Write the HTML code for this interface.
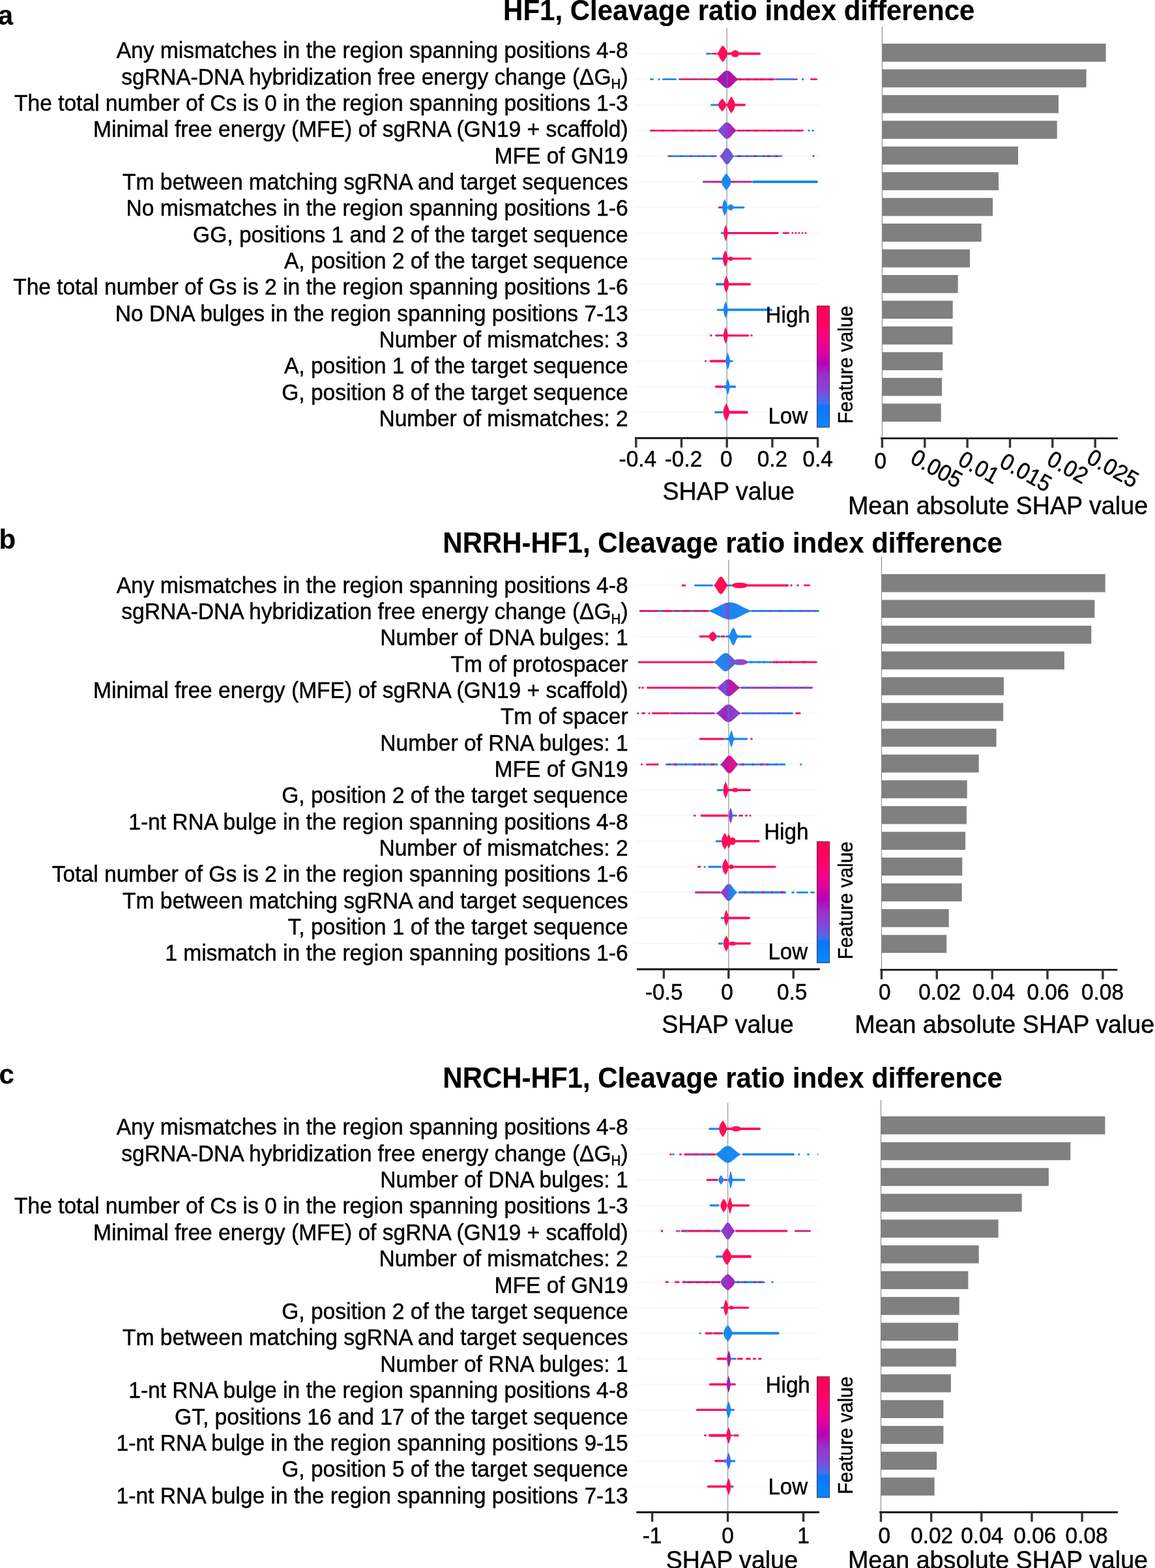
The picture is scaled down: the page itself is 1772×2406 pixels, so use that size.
<!DOCTYPE html><html><head><meta charset="utf-8"><title>SHAP summary</title><style>html,body{margin:0;padding:0;background:#fff;overflow:hidden;}svg{display:block;}text{font-family:"Liberation Sans", Arial, Helvetica, sans-serif;fill:#000;stroke:#000;stroke-width:0.45px;}</style></head><body>
<svg width="1772" height="2406" viewBox="0 0 1772 2406">
<defs><linearGradient id="cb" x1="0" y1="0" x2="0" y2="1"><stop offset="0" stop-color="#ff0052"/><stop offset="0.14" stop-color="#ff0060"/><stop offset="0.24" stop-color="#fb007e"/><stop offset="0.38" stop-color="#e0009e"/><stop offset="0.476" stop-color="#b800b8"/><stop offset="0.57" stop-color="#9a30c8"/><stop offset="0.67" stop-color="#8a42d8"/><stop offset="0.74" stop-color="#6a58e2"/><stop offset="0.80" stop-color="#4070f0"/><stop offset="0.825" stop-color="#0a78f8"/><stop offset="1" stop-color="#0a86ff"/></linearGradient><linearGradient id="g1" x1="0" y1="0" x2="1" y2="0"><stop offset="0.000" stop-color="#b5129f"/><stop offset="0.300" stop-color="#a81aa8"/><stop offset="0.450" stop-color="#a01cb0"/><stop offset="0.500" stop-color="#7a4ad0"/><stop offset="0.560" stop-color="#b0159f"/><stop offset="1.000" stop-color="#c0109a"/></linearGradient><linearGradient id="g2" x1="0" y1="0" x2="1" y2="0"><stop offset="0.000" stop-color="#6f55d8"/><stop offset="0.333" stop-color="#7a4ed6"/><stop offset="0.667" stop-color="#a32ab8"/><stop offset="1.000" stop-color="#c0139f"/></linearGradient><linearGradient id="g3" x1="0" y1="0" x2="1" y2="0"><stop offset="0.000" stop-color="#8b44cf"/><stop offset="0.500" stop-color="#6f55d8"/><stop offset="1.000" stop-color="#5a66e0"/></linearGradient><linearGradient id="g4" x1="0" y1="0" x2="1" y2="0"><stop offset="0.000" stop-color="#1a88f0"/><stop offset="0.300" stop-color="#1a88f0"/><stop offset="0.340" stop-color="#4a70e8"/><stop offset="0.380" stop-color="#1a88f0"/><stop offset="0.420" stop-color="#6a5ad8"/><stop offset="0.470" stop-color="#7050d5"/><stop offset="0.500" stop-color="#1a88f0"/><stop offset="1.000" stop-color="#1a88f0"/></linearGradient><linearGradient id="g5" x1="0" y1="0" x2="1" y2="0"><stop offset="0.000" stop-color="#5a66e0"/><stop offset="0.500" stop-color="#8a4ad0"/><stop offset="1.000" stop-color="#a03cc8"/></linearGradient><linearGradient id="g6" x1="0" y1="0" x2="1" y2="0"><stop offset="0.000" stop-color="#1a88f0"/><stop offset="0.250" stop-color="#2f80ee"/><stop offset="0.500" stop-color="#1a88f0"/><stop offset="0.750" stop-color="#6f55d8"/><stop offset="1.000" stop-color="#4a70e8"/></linearGradient><linearGradient id="g7" x1="0" y1="0" x2="1" y2="0"><stop offset="0.000" stop-color="#9040c8"/><stop offset="0.300" stop-color="#8a40c8"/><stop offset="0.340" stop-color="#3a78ee"/><stop offset="0.380" stop-color="#8a40c8"/><stop offset="0.500" stop-color="#a524b5"/><stop offset="0.750" stop-color="#c0179f"/><stop offset="1.000" stop-color="#b02ab0"/></linearGradient><linearGradient id="g8" x1="0" y1="0" x2="1" y2="0"><stop offset="0.000" stop-color="#9a3ac8"/><stop offset="0.300" stop-color="#9030c0"/><stop offset="0.360" stop-color="#c0189f"/><stop offset="0.420" stop-color="#9030c0"/><stop offset="0.500" stop-color="#6a58e0"/><stop offset="0.550" stop-color="#9a30c0"/><stop offset="0.700" stop-color="#8a40d0"/><stop offset="1.000" stop-color="#8a40d0"/></linearGradient><linearGradient id="g9" x1="0" y1="0" x2="1" y2="0"><stop offset="0.000" stop-color="#a02ab8"/><stop offset="0.333" stop-color="#c0179f"/><stop offset="0.667" stop-color="#e0108a"/><stop offset="1.000" stop-color="#b02ab0"/></linearGradient><linearGradient id="g10" x1="0" y1="0" x2="1" y2="0"><stop offset="0.000" stop-color="#8a40c8"/><stop offset="0.333" stop-color="#8a40c8"/><stop offset="0.667" stop-color="#1a88f0"/><stop offset="1.000" stop-color="#1a88f0"/></linearGradient><linearGradient id="g11" x1="0" y1="0" x2="1" y2="0"><stop offset="0.000" stop-color="#8a3ed0"/><stop offset="0.500" stop-color="#8a3ed0"/><stop offset="1.000" stop-color="#b01aa8"/></linearGradient><linearGradient id="g12" x1="0" y1="0" x2="1" y2="0"><stop offset="0.000" stop-color="#8a3ed0"/><stop offset="0.500" stop-color="#9a30c0"/><stop offset="1.000" stop-color="#b01aa8"/></linearGradient></defs>
<rect width="100%" height="100%" fill="#fff"/>
<text transform="translate(-3.2 37.5) scale(1 1.0)" font-size="42" font-weight="bold" style="stroke-width:0.15px">a</text>
<text transform="translate(1133.7 31.0) scale(1 1.045)" font-size="42.0" font-weight="bold" text-anchor="middle" style="stroke-width:0.15px">HF1, Cleavage ratio index difference</text>
<text transform="translate(963.6 89.4) scale(1 1.06)" font-size="33.55" text-anchor="end">Any mismatches in the region spanning positions 4-8</text>
<text transform="translate(963.6 129.7) scale(1 1.06)" font-size="33.55" text-anchor="end">sgRNA-DNA hybridization free energy change (ΔG<tspan font-size="20.5" dy="6.2">H</tspan><tspan dy="-6.2">)</tspan></text>
<text transform="translate(963.6 170.0) scale(1 1.06)" font-size="33.55" text-anchor="end">The total number of Cs is 0 in the region spanning positions 1-3</text>
<text transform="translate(963.6 210.4) scale(1 1.06)" font-size="33.55" text-anchor="end">Minimal free energy (MFE) of sgRNA (GN19 + scaffold)</text>
<text transform="translate(963.6 250.7) scale(1 1.06)" font-size="33.55" text-anchor="end">MFE of GN19</text>
<text transform="translate(963.6 291.0) scale(1 1.06)" font-size="33.55" text-anchor="end">Tm between matching sgRNA and target sequences</text>
<text transform="translate(963.6 331.3) scale(1 1.06)" font-size="33.55" text-anchor="end">No mismatches in the region spanning positions 1-6</text>
<text transform="translate(963.6 371.6) scale(1 1.06)" font-size="33.55" text-anchor="end">GG, positions 1 and 2 of the target sequence</text>
<text transform="translate(963.6 412.0) scale(1 1.06)" font-size="33.55" text-anchor="end">A, position 2 of the target sequence</text>
<text transform="translate(963.6 452.3) scale(1 1.06)" font-size="33.55" text-anchor="end">The total number of Gs is 2 in the region spanning positions 1-6</text>
<text transform="translate(963.6 492.6) scale(1 1.06)" font-size="33.55" text-anchor="end">No DNA bulges in the region spanning positions 7-13</text>
<text transform="translate(963.6 532.9) scale(1 1.06)" font-size="33.55" text-anchor="end">Number of mismatches: 3</text>
<text transform="translate(963.6 573.2) scale(1 1.06)" font-size="33.55" text-anchor="end">A, position 1 of the target sequence</text>
<text transform="translate(963.6 613.6) scale(1 1.06)" font-size="33.55" text-anchor="end">G, position 8 of the target sequence</text>
<text transform="translate(963.6 653.9) scale(1 1.06)" font-size="33.55" text-anchor="end">Number of mismatches: 2</text>
<line x1="975" x2="1257" y1="82.4" y2="82.4" stroke="#f7f7f7" stroke-width="1.5"/>
<line x1="975" x2="1257" y1="121.7" y2="121.7" stroke="#f7f7f7" stroke-width="1.5"/>
<line x1="975" x2="1257" y1="161.0" y2="161.0" stroke="#f7f7f7" stroke-width="1.5"/>
<line x1="975" x2="1257" y1="200.3" y2="200.3" stroke="#f7f7f7" stroke-width="1.5"/>
<line x1="975" x2="1257" y1="239.6" y2="239.6" stroke="#f7f7f7" stroke-width="1.5"/>
<line x1="975" x2="1257" y1="279.0" y2="279.0" stroke="#f7f7f7" stroke-width="1.5"/>
<line x1="975" x2="1257" y1="318.3" y2="318.3" stroke="#f7f7f7" stroke-width="1.5"/>
<line x1="975" x2="1257" y1="357.6" y2="357.6" stroke="#f7f7f7" stroke-width="1.5"/>
<line x1="975" x2="1257" y1="396.9" y2="396.9" stroke="#f7f7f7" stroke-width="1.5"/>
<line x1="975" x2="1257" y1="436.2" y2="436.2" stroke="#f7f7f7" stroke-width="1.5"/>
<line x1="975" x2="1257" y1="475.5" y2="475.5" stroke="#f7f7f7" stroke-width="1.5"/>
<line x1="975" x2="1257" y1="514.8" y2="514.8" stroke="#f7f7f7" stroke-width="1.5"/>
<line x1="975" x2="1257" y1="554.1" y2="554.1" stroke="#f7f7f7" stroke-width="1.5"/>
<line x1="975" x2="1257" y1="593.4" y2="593.4" stroke="#f7f7f7" stroke-width="1.5"/>
<line x1="975" x2="1257" y1="632.7" y2="632.7" stroke="#f7f7f7" stroke-width="1.5"/>
<line x1="1115.2" x2="1115.2" y1="43.0" y2="672.2" stroke="#a0a0a0" stroke-width="1.4"/>
<rect x="1083.0" y="81.0" width="9.0" height="2.8" rx="1.4" fill="#1a88f0"/>
<rect x="1092.0" y="81.0" width="8.0" height="2.8" rx="1.4" fill="#ff0d57"/>
<rect x="1100.0" y="80.6" width="67.0" height="3.6" rx="1.8" fill="#ff0d57"/>
<path d="M1109.0,69.4 L1108.2,70.5 L1107.3,71.6 L1106.4,72.7 L1105.6,73.7 L1104.9,74.8 L1104.2,75.9 L1103.6,77.0 L1103.1,78.1 L1102.6,79.2 L1102.3,80.2 L1102.1,81.3 L1102.0,82.4 L1102.1,83.5 L1102.3,84.6 L1102.6,85.7 L1103.1,86.7 L1103.6,87.8 L1104.2,88.9 L1104.9,90.0 L1105.6,91.1 L1106.4,92.2 L1107.3,93.2 L1108.2,94.3 L1109.0,95.4 L1109.0,95.4 L1109.8,94.3 L1110.7,93.2 L1111.6,92.2 L1112.4,91.1 L1113.1,90.0 L1113.8,88.9 L1114.4,87.8 L1114.9,86.7 L1115.4,85.7 L1115.7,84.6 L1115.9,83.5 L1116.0,82.4 L1115.9,81.3 L1115.7,80.2 L1115.4,79.2 L1114.9,78.1 L1114.4,77.0 L1113.8,75.9 L1113.1,74.8 L1112.4,73.7 L1111.6,72.7 L1110.7,71.6 L1109.8,70.5 L1109.0,69.4Z" fill="#ff0d57"/>
<ellipse cx="1128.0" cy="82.4" rx="6.0" ry="5.3" fill="#ff0d57"/>
<rect x="997.0" y="120.3" width="6.0" height="2.8" rx="1.4" fill="#1a88f0"/>
<circle cx="1011.0" cy="121.7" r="1.6" fill="#1a88f0"/>
<rect x="1016.0" y="120.3" width="22.0" height="2.8" rx="1.4" fill="#1a88f0"/>
<rect x="1041.0" y="120.3" width="59.0" height="2.8" rx="1.4" fill="#ff0d57"/>
<rect x="1042.2" y="120.3" width="2.3" height="2.8" fill="#1a88f0"/>
<rect x="1057.8" y="120.3" width="1.8" height="2.8" fill="#1a88f0"/>
<rect x="1070.1" y="120.3" width="4.0" height="2.8" fill="#1a88f0"/>
<rect x="1087.9" y="120.3" width="4.3" height="2.8" fill="#1a88f0"/>
<rect x="1128.0" y="120.2" width="61.0" height="3.0" rx="1.5" fill="#ff0d57"/>
<rect x="1134.4" y="120.2" width="2.3" height="3.0" fill="#b020a8"/>
<rect x="1145.7" y="120.2" width="3.5" height="3.0" fill="#b020a8"/>
<rect x="1159.6" y="120.2" width="2.4" height="3.0" fill="#b020a8"/>
<rect x="1167.5" y="120.2" width="3.0" height="3.0" fill="#b020a8"/>
<rect x="1180.0" y="120.2" width="4.1" height="3.0" fill="#b020a8"/>
<rect x="1189.0" y="120.3" width="35.0" height="2.8" rx="1.4" fill="#7a58d8"/>
<rect x="1191.7" y="120.3" width="1.9" height="2.8" fill="#1a88f0"/>
<rect x="1196.2" y="120.3" width="1.8" height="2.8" fill="#1a88f0"/>
<rect x="1202.6" y="120.3" width="1.7" height="2.8" fill="#1a88f0"/>
<rect x="1209.4" y="120.3" width="2.9" height="2.8" fill="#1a88f0"/>
<rect x="1214.9" y="120.3" width="1.7" height="2.8" fill="#1a88f0"/>
<circle cx="1231.5" cy="121.7" r="1.6" fill="#1a88f0"/>
<rect x="1243.0" y="120.3" width="11.0" height="2.8" rx="1.4" fill="#ff0d57"/>
<rect x="1246.9" y="120.3" width="2.2" height="2.8" fill="#9a2fc4"/>
<path d="M1097.0,121.7 L1098.2,121.1 L1099.3,120.4 L1100.5,119.7 L1101.6,118.8 L1102.8,117.8 L1103.9,116.7 L1105.1,115.5 L1106.2,114.4 L1107.4,113.2 L1108.5,112.0 L1109.7,111.0 L1110.8,110.0 L1112.0,109.3 L1113.1,108.7 L1114.2,108.3 L1115.4,108.2 L1116.6,108.3 L1117.7,108.7 L1118.9,109.3 L1120.0,110.0 L1121.2,111.0 L1122.3,112.0 L1123.5,113.2 L1124.6,114.4 L1125.8,115.5 L1126.9,116.7 L1128.1,117.8 L1129.2,118.8 L1130.4,119.7 L1131.5,120.4 L1132.7,121.1 L1133.8,121.7 L1133.8,121.7 L1132.7,122.3 L1131.5,123.0 L1130.4,123.8 L1129.2,124.7 L1128.1,125.7 L1126.9,126.7 L1125.8,127.9 L1124.6,129.1 L1123.5,130.2 L1122.3,131.4 L1121.2,132.4 L1120.0,133.4 L1118.9,134.1 L1117.7,134.7 L1116.6,135.1 L1115.4,135.2 L1114.2,135.1 L1113.1,134.7 L1112.0,134.1 L1110.8,133.4 L1109.7,132.4 L1108.5,131.4 L1107.4,130.2 L1106.2,129.1 L1105.1,127.9 L1103.9,126.7 L1102.8,125.7 L1101.6,124.7 L1100.5,123.8 L1099.3,123.0 L1098.2,122.3 L1097.0,121.7Z" fill="url(#g1)"/>
<rect x="1090.0" y="159.5" width="15.0" height="3.0" rx="1.5" fill="#1a88f0"/>
<rect x="1105.0" y="159.3" width="39.0" height="3.4" rx="1.7" fill="#ff0d57"/>
<path d="M1108.0,151.0 L1107.3,151.9 L1106.5,152.7 L1105.8,153.5 L1105.1,154.4 L1104.4,155.2 L1103.9,156.0 L1103.4,156.9 L1102.9,157.7 L1102.5,158.5 L1102.3,159.4 L1102.1,160.2 L1102.0,161.0 L1102.1,161.9 L1102.3,162.7 L1102.5,163.5 L1102.9,164.4 L1103.4,165.2 L1103.9,166.0 L1104.4,166.9 L1105.1,167.7 L1105.8,168.5 L1106.5,169.4 L1107.3,170.2 L1108.0,171.0 L1108.0,171.0 L1108.7,170.2 L1109.5,169.4 L1110.2,168.5 L1110.9,167.7 L1111.6,166.9 L1112.1,166.0 L1112.6,165.2 L1113.1,164.4 L1113.5,163.5 L1113.7,162.7 L1113.9,161.9 L1114.0,161.0 L1113.9,160.2 L1113.7,159.4 L1113.5,158.5 L1113.1,157.7 L1112.6,156.9 L1112.1,156.0 L1111.6,155.2 L1110.9,154.4 L1110.2,153.5 L1109.5,152.7 L1108.7,151.9 L1108.0,151.0Z" fill="#ff0d57"/>
<path d="M1122.0,148.0 L1121.3,149.1 L1120.5,150.2 L1119.8,151.3 L1119.1,152.4 L1118.4,153.4 L1117.9,154.5 L1117.4,155.6 L1116.9,156.7 L1116.5,157.8 L1116.3,158.9 L1116.1,159.9 L1116.0,161.0 L1116.1,162.1 L1116.3,163.2 L1116.5,164.3 L1116.9,165.4 L1117.4,166.4 L1117.9,167.5 L1118.4,168.6 L1119.1,169.7 L1119.8,170.8 L1120.5,171.9 L1121.3,172.9 L1122.0,174.0 L1122.0,174.0 L1122.7,172.9 L1123.5,171.9 L1124.2,170.8 L1124.9,169.7 L1125.6,168.6 L1126.1,167.5 L1126.6,166.4 L1127.1,165.4 L1127.5,164.3 L1127.7,163.2 L1127.9,162.1 L1128.0,161.0 L1127.9,159.9 L1127.7,158.9 L1127.5,157.8 L1127.1,156.7 L1126.6,155.6 L1126.1,154.5 L1125.6,153.4 L1124.9,152.4 L1124.2,151.3 L1123.5,150.2 L1122.7,149.1 L1122.0,148.0Z" fill="#ff0d57"/>
<rect x="997.0" y="198.9" width="103.0" height="2.8" rx="1.4" fill="#ff0d57"/>
<rect x="999.0" y="198.9" width="3.1" height="2.8" fill="#d01c90"/>
<rect x="1016.1" y="198.9" width="3.2" height="2.8" fill="#d01c90"/>
<rect x="1030.3" y="198.9" width="5.4" height="2.8" fill="#d01c90"/>
<rect x="1049.8" y="198.9" width="4.4" height="2.8" fill="#d01c90"/>
<rect x="1060.2" y="198.9" width="4.3" height="2.8" fill="#d01c90"/>
<rect x="1072.9" y="198.9" width="4.5" height="2.8" fill="#d01c90"/>
<rect x="1086.8" y="198.9" width="2.1" height="2.8" fill="#d01c90"/>
<rect x="1097.8" y="198.9" width="1.9" height="2.8" fill="#d01c90"/>
<rect x="1130.0" y="198.9" width="103.0" height="2.8" rx="1.4" fill="#ff0d57"/>
<rect x="1136.7" y="198.9" width="4.4" height="2.8" fill="#b02ab0"/>
<rect x="1145.3" y="198.9" width="3.0" height="2.8" fill="#b02ab0"/>
<rect x="1158.0" y="198.9" width="3.9" height="2.8" fill="#b02ab0"/>
<rect x="1172.2" y="198.9" width="1.7" height="2.8" fill="#b02ab0"/>
<rect x="1179.2" y="198.9" width="2.8" height="2.8" fill="#b02ab0"/>
<rect x="1192.1" y="198.9" width="4.0" height="2.8" fill="#b02ab0"/>
<rect x="1202.8" y="198.9" width="3.7" height="2.8" fill="#b02ab0"/>
<rect x="1210.6" y="198.9" width="3.5" height="2.8" fill="#b02ab0"/>
<rect x="1221.1" y="198.9" width="4.1" height="2.8" fill="#b02ab0"/>
<circle cx="1241.0" cy="200.3" r="1.6" fill="#1a88f0"/>
<circle cx="1247.0" cy="200.3" r="1.6" fill="#1a88f0"/>
<path d="M1099.8,200.3 L1100.8,199.8 L1101.7,199.2 L1102.7,198.4 L1103.7,197.6 L1104.6,196.6 L1105.6,195.6 L1106.6,194.6 L1107.5,193.5 L1108.5,192.4 L1109.5,191.3 L1110.5,190.3 L1111.4,189.4 L1112.4,188.7 L1113.4,188.2 L1114.3,187.8 L1115.3,187.7 L1116.3,187.8 L1117.2,188.2 L1118.2,188.7 L1119.2,189.4 L1120.1,190.3 L1121.1,191.3 L1122.1,192.4 L1123.0,193.5 L1124.0,194.6 L1125.0,195.6 L1126.0,196.6 L1126.9,197.6 L1127.9,198.4 L1128.9,199.2 L1129.8,199.8 L1130.8,200.3 L1130.8,200.3 L1129.8,200.9 L1128.9,201.5 L1127.9,202.2 L1126.9,203.1 L1126.0,204.0 L1125.0,205.0 L1124.0,206.1 L1123.0,207.2 L1122.1,208.3 L1121.1,209.4 L1120.1,210.3 L1119.2,211.2 L1118.2,211.9 L1117.2,212.5 L1116.3,212.8 L1115.3,212.9 L1114.3,212.8 L1113.4,212.5 L1112.4,211.9 L1111.4,211.2 L1110.5,210.3 L1109.5,209.4 L1108.5,208.3 L1107.5,207.2 L1106.6,206.1 L1105.6,205.0 L1104.6,204.0 L1103.7,203.1 L1102.7,202.2 L1101.7,201.5 L1100.8,200.9 L1099.8,200.3Z" fill="url(#g2)"/>
<rect x="1024.0" y="238.2" width="76.0" height="2.8" rx="1.4" fill="#1a88f0"/>
<rect x="1027.0" y="238.2" width="4.7" height="2.8" fill="#a23ec0"/>
<rect x="1043.2" y="238.2" width="3.4" height="2.8" fill="#a23ec0"/>
<rect x="1058.3" y="238.2" width="3.9" height="2.8" fill="#a23ec0"/>
<rect x="1071.5" y="238.2" width="2.2" height="2.8" fill="#a23ec0"/>
<rect x="1077.7" y="238.2" width="3.8" height="2.8" fill="#a23ec0"/>
<rect x="1091.8" y="238.2" width="4.0" height="2.8" fill="#a23ec0"/>
<rect x="1127.0" y="238.2" width="73.0" height="2.8" rx="1.4" fill="#1a88f0"/>
<rect x="1132.2" y="238.2" width="4.3" height="2.8" fill="#ff0d57"/>
<rect x="1145.4" y="238.2" width="2.0" height="2.8" fill="#ff0d57"/>
<rect x="1156.5" y="238.2" width="4.6" height="2.8" fill="#ff0d57"/>
<rect x="1170.8" y="238.2" width="2.2" height="2.8" fill="#ff0d57"/>
<rect x="1177.3" y="238.2" width="4.2" height="2.8" fill="#ff0d57"/>
<rect x="1189.2" y="238.2" width="3.9" height="2.8" fill="#ff0d57"/>
<circle cx="1248.0" cy="239.6" r="1.6" fill="#555"/>
<path d="M1103.9,239.6 L1104.6,239.1 L1105.3,238.5 L1106.1,237.7 L1106.8,236.9 L1107.5,236.0 L1108.2,234.9 L1109.0,233.9 L1109.7,232.8 L1110.4,231.7 L1111.2,230.6 L1111.9,229.6 L1112.6,228.8 L1113.3,228.0 L1114.0,227.5 L1114.8,227.2 L1115.5,227.0 L1116.2,227.2 L1117.0,227.5 L1117.7,228.0 L1118.4,228.8 L1119.1,229.6 L1119.8,230.6 L1120.6,231.7 L1121.3,232.8 L1122.0,233.9 L1122.8,234.9 L1123.5,236.0 L1124.2,236.9 L1124.9,237.7 L1125.7,238.5 L1126.4,239.1 L1127.1,239.6 L1127.1,239.6 L1126.4,240.2 L1125.7,240.8 L1124.9,241.6 L1124.2,242.4 L1123.5,243.3 L1122.8,244.3 L1122.0,245.4 L1121.3,246.5 L1120.6,247.6 L1119.8,248.7 L1119.1,249.7 L1118.4,250.5 L1117.7,251.3 L1117.0,251.8 L1116.2,252.1 L1115.5,252.2 L1114.8,252.1 L1114.0,251.8 L1113.3,251.3 L1112.6,250.5 L1111.9,249.7 L1111.2,248.7 L1110.4,247.6 L1109.7,246.5 L1109.0,245.4 L1108.2,244.3 L1107.5,243.3 L1106.8,242.4 L1106.1,241.6 L1105.3,240.8 L1104.6,240.2 L1103.9,239.6Z" fill="url(#g3)"/>
<rect x="1078.0" y="277.6" width="76.0" height="2.8" rx="1.4" fill="#ff0d57"/>
<rect x="1079.3" y="277.6" width="3.3" height="2.8" fill="#1a88f0"/>
<rect x="1087.2" y="277.6" width="1.9" height="2.8" fill="#1a88f0"/>
<rect x="1096.3" y="277.6" width="2.0" height="2.8" fill="#1a88f0"/>
<rect x="1107.6" y="277.6" width="1.9" height="2.8" fill="#1a88f0"/>
<rect x="1117.2" y="277.6" width="2.3" height="2.8" fill="#1a88f0"/>
<rect x="1128.7" y="277.6" width="2.6" height="2.8" fill="#1a88f0"/>
<rect x="1137.4" y="277.6" width="1.9" height="2.8" fill="#1a88f0"/>
<rect x="1145.9" y="277.6" width="3.6" height="2.8" fill="#1a88f0"/>
<rect x="1154.0" y="277.1" width="101.0" height="3.8" rx="1.9" fill="#1a88f0"/>
<path d="M1114.3,266.0 L1113.4,267.0 L1112.5,268.1 L1111.6,269.2 L1110.8,270.3 L1110.0,271.4 L1109.3,272.5 L1108.6,273.5 L1108.1,274.6 L1107.7,275.7 L1107.3,276.8 L1107.1,277.9 L1107.0,279.0 L1107.1,280.0 L1107.3,281.1 L1107.7,282.2 L1108.1,283.3 L1108.6,284.4 L1109.3,285.5 L1110.0,286.5 L1110.8,287.6 L1111.6,288.7 L1112.5,289.8 L1113.4,290.9 L1114.3,292.0 L1114.3,292.0 L1115.2,290.9 L1116.1,289.8 L1117.0,288.7 L1117.8,287.6 L1118.6,286.5 L1119.3,285.5 L1120.0,284.4 L1120.5,283.3 L1120.9,282.2 L1121.3,281.1 L1121.5,280.0 L1121.6,279.0 L1121.5,277.9 L1121.3,276.8 L1120.9,275.7 L1120.5,274.6 L1120.0,273.5 L1119.3,272.5 L1118.6,271.4 L1117.8,270.3 L1117.0,269.2 L1116.1,268.1 L1115.2,267.0 L1114.3,266.0Z" fill="#1a88f0"/>
<rect x="1101.7" y="316.8" width="8.3" height="3.0" rx="1.5" fill="#ff0d57"/>
<rect x="1110.0" y="316.7" width="32.4" height="3.2" rx="1.6" fill="#1a88f0"/>
<path d="M1112.0,305.3 L1111.5,306.3 L1111.0,307.4 L1110.5,308.5 L1110.1,309.6 L1109.6,310.7 L1109.2,311.8 L1108.9,312.8 L1108.6,313.9 L1108.4,315.0 L1108.2,316.1 L1108.1,317.2 L1108.0,318.3 L1108.1,319.3 L1108.2,320.4 L1108.4,321.5 L1108.6,322.6 L1108.9,323.7 L1109.2,324.8 L1109.6,325.8 L1110.1,326.9 L1110.5,328.0 L1111.0,329.1 L1111.5,330.2 L1112.0,331.3 L1112.0,331.3 L1112.5,330.2 L1113.0,329.1 L1113.5,328.0 L1113.9,326.9 L1114.4,325.8 L1114.8,324.8 L1115.1,323.7 L1115.4,322.6 L1115.6,321.5 L1115.8,320.4 L1115.9,319.3 L1116.0,318.3 L1115.9,317.2 L1115.8,316.1 L1115.6,315.0 L1115.4,313.9 L1115.1,312.8 L1114.8,311.8 L1114.4,310.7 L1113.9,309.6 L1113.5,308.5 L1113.0,307.4 L1112.5,306.3 L1112.0,305.3Z" fill="#1a88f0"/>
<ellipse cx="1121.0" cy="318.3" rx="4.5" ry="4.5" fill="#1a88f0"/>
<rect x="1105.6" y="356.2" width="5.4" height="2.8" rx="1.4" fill="#1a88f0"/>
<rect x="1113.0" y="356.0" width="81.7" height="3.2" rx="1.6" fill="#ff0d57"/>
<rect x="1200.5" y="356.2" width="10.7" height="2.8" rx="1.4" fill="#ff0d57"/>
<circle cx="1216.0" cy="357.6" r="1.5" fill="#ff0d57"/>
<circle cx="1221.0" cy="357.6" r="1.5" fill="#ff0d57"/>
<circle cx="1226.0" cy="357.6" r="1.5" fill="#ff0d57"/>
<circle cx="1231.0" cy="357.6" r="1.5" fill="#ff0d57"/>
<circle cx="1236.0" cy="357.6" r="1.5" fill="#ff0d57"/>
<path d="M1113.3,345.0 L1112.9,346.0 L1112.5,347.1 L1112.1,348.1 L1111.7,349.2 L1111.4,350.2 L1111.1,351.3 L1110.8,352.3 L1110.6,353.4 L1110.4,354.4 L1110.2,355.5 L1110.1,356.5 L1110.1,357.6 L1110.1,358.6 L1110.2,359.7 L1110.4,360.7 L1110.6,361.8 L1110.8,362.8 L1111.1,363.9 L1111.4,364.9 L1111.7,366.0 L1112.1,367.0 L1112.5,368.1 L1112.9,369.1 L1113.3,370.2 L1113.3,370.2 L1113.7,369.1 L1114.1,368.1 L1114.5,367.0 L1114.9,366.0 L1115.2,364.9 L1115.5,363.9 L1115.8,362.8 L1116.0,361.8 L1116.2,360.7 L1116.4,359.7 L1116.5,358.6 L1116.5,357.6 L1116.5,356.5 L1116.4,355.5 L1116.2,354.4 L1116.0,353.4 L1115.8,352.3 L1115.5,351.3 L1115.2,350.2 L1114.9,349.2 L1114.5,348.1 L1114.1,347.1 L1113.7,346.0 L1113.3,345.0Z" fill="#ff0d57"/>
<rect x="1092.0" y="395.3" width="17.5" height="3.2" rx="1.6" fill="#1a88f0"/>
<rect x="1112.0" y="395.3" width="41.0" height="3.2" rx="1.6" fill="#ff0d57"/>
<path d="M1112.8,384.1 L1112.3,385.1 L1111.8,386.2 L1111.3,387.3 L1110.9,388.3 L1110.4,389.4 L1110.0,390.5 L1109.7,391.5 L1109.4,392.6 L1109.2,393.7 L1109.0,394.7 L1108.9,395.8 L1108.8,396.9 L1108.9,397.9 L1109.0,399.0 L1109.2,400.1 L1109.4,401.1 L1109.7,402.2 L1110.0,403.3 L1110.4,404.3 L1110.9,405.4 L1111.3,406.5 L1111.8,407.5 L1112.3,408.6 L1112.8,409.7 L1112.8,409.7 L1113.3,408.6 L1113.8,407.5 L1114.3,406.5 L1114.7,405.4 L1115.2,404.3 L1115.6,403.3 L1115.9,402.2 L1116.2,401.1 L1116.4,400.1 L1116.6,399.0 L1116.7,397.9 L1116.8,396.9 L1116.7,395.8 L1116.6,394.7 L1116.4,393.7 L1116.2,392.6 L1115.9,391.5 L1115.6,390.5 L1115.2,389.4 L1114.7,388.3 L1114.3,387.3 L1113.8,386.2 L1113.3,385.1 L1112.8,384.1Z" fill="#ff0d57"/>
<ellipse cx="1121.0" cy="396.9" rx="3.5" ry="3.2" fill="#ff0d57"/>
<rect x="1097.8" y="434.3" width="13.6" height="3.7" rx="1.9" fill="#1a88f0"/>
<rect x="1114.0" y="434.3" width="38.0" height="3.7" rx="1.9" fill="#ff0d57"/>
<path d="M1114.3,423.2 L1113.8,424.3 L1113.3,425.4 L1112.8,426.4 L1112.4,427.5 L1111.9,428.6 L1111.5,429.7 L1111.2,430.8 L1110.9,431.9 L1110.7,432.9 L1110.5,434.0 L1110.4,435.1 L1110.3,436.2 L1110.4,437.3 L1110.5,438.4 L1110.7,439.4 L1110.9,440.5 L1111.2,441.6 L1111.5,442.7 L1111.9,443.8 L1112.4,444.9 L1112.8,445.9 L1113.3,447.0 L1113.8,448.1 L1114.3,449.2 L1114.3,449.2 L1114.8,448.1 L1115.3,447.0 L1115.8,445.9 L1116.2,444.9 L1116.7,443.8 L1117.1,442.7 L1117.4,441.6 L1117.7,440.5 L1117.9,439.4 L1118.1,438.4 L1118.2,437.3 L1118.3,436.2 L1118.2,435.1 L1118.1,434.0 L1117.9,432.9 L1117.7,431.9 L1117.4,430.8 L1117.1,429.7 L1116.7,428.6 L1116.2,427.5 L1115.8,426.4 L1115.3,425.4 L1114.8,424.3 L1114.3,423.2Z" fill="#ff0d57"/>
<rect x="1099.8" y="474.0" width="13.2" height="3.0" rx="1.5" fill="#1a88f0"/>
<rect x="1113.0" y="473.6" width="72.0" height="3.7" rx="1.9" fill="#1a88f0"/>
<path d="M1113.3,462.5 L1112.9,463.6 L1112.4,464.7 L1112.0,465.8 L1111.6,466.8 L1111.2,467.9 L1110.9,469.0 L1110.6,470.1 L1110.3,471.2 L1110.1,472.2 L1110.0,473.3 L1109.8,474.4 L1109.8,475.5 L1109.8,476.6 L1110.0,477.7 L1110.1,478.8 L1110.3,479.8 L1110.6,480.9 L1110.9,482.0 L1111.2,483.1 L1111.6,484.2 L1112.0,485.2 L1112.4,486.3 L1112.9,487.4 L1113.3,488.5 L1113.3,488.5 L1113.7,487.4 L1114.2,486.3 L1114.6,485.2 L1115.0,484.2 L1115.4,483.1 L1115.7,482.0 L1116.0,480.9 L1116.3,479.8 L1116.5,478.8 L1116.6,477.7 L1116.8,476.6 L1116.8,475.5 L1116.8,474.4 L1116.6,473.3 L1116.5,472.2 L1116.3,471.2 L1116.0,470.1 L1115.7,469.0 L1115.4,467.9 L1115.0,466.8 L1114.6,465.8 L1114.2,464.7 L1113.7,463.6 L1113.3,462.5Z" fill="#1a88f0"/>
<circle cx="1091.0" cy="514.8" r="1.7" fill="#ff0d57"/>
<rect x="1097.0" y="513.3" width="14.0" height="3.0" rx="1.5" fill="#ff0d57"/>
<rect x="1098.1" y="513.3" width="2.8" height="3.0" fill="#1a88f0"/>
<rect x="1107.1" y="513.3" width="1.7" height="3.0" fill="#1a88f0"/>
<rect x="1113.0" y="513.2" width="36.2" height="3.2" rx="1.6" fill="#ff0d57"/>
<circle cx="1153.0" cy="514.8" r="1.7" fill="#ff0d57"/>
<path d="M1113.3,501.8 L1112.9,502.9 L1112.4,504.0 L1112.0,505.1 L1111.6,506.1 L1111.2,507.2 L1110.9,508.3 L1110.6,509.4 L1110.3,510.5 L1110.1,511.6 L1110.0,512.6 L1109.8,513.7 L1109.8,514.8 L1109.8,515.9 L1110.0,517.0 L1110.1,518.1 L1110.3,519.1 L1110.6,520.2 L1110.9,521.3 L1111.2,522.4 L1111.6,523.5 L1112.0,524.6 L1112.4,525.6 L1112.9,526.7 L1113.3,527.8 L1113.3,527.8 L1113.7,526.7 L1114.2,525.6 L1114.6,524.6 L1115.0,523.5 L1115.4,522.4 L1115.7,521.3 L1116.0,520.2 L1116.3,519.1 L1116.5,518.1 L1116.6,517.0 L1116.8,515.9 L1116.8,514.8 L1116.8,513.7 L1116.6,512.6 L1116.5,511.6 L1116.3,510.5 L1116.0,509.4 L1115.7,508.3 L1115.4,507.2 L1115.0,506.1 L1114.6,505.1 L1114.2,504.0 L1113.7,502.9 L1113.3,501.8Z" fill="#ff0d57"/>
<circle cx="1082.7" cy="554.1" r="1.7" fill="#ff0d57"/>
<rect x="1088.5" y="552.2" width="25.8" height="3.8" rx="1.9" fill="#ff0d57"/>
<rect x="1114.0" y="552.5" width="10.6" height="3.2" rx="1.6" fill="#1a88f0"/>
<path d="M1116.6,541.1 L1116.2,542.2 L1115.8,543.3 L1115.4,544.4 L1115.0,545.5 L1114.6,546.5 L1114.3,547.6 L1114.0,548.7 L1113.8,549.8 L1113.6,550.9 L1113.4,552.0 L1113.3,553.0 L1113.3,554.1 L1113.3,555.2 L1113.4,556.3 L1113.6,557.4 L1113.8,558.5 L1114.0,559.5 L1114.3,560.6 L1114.6,561.7 L1115.0,562.8 L1115.4,563.9 L1115.8,565.0 L1116.2,566.0 L1116.6,567.1 L1116.6,567.1 L1117.0,566.0 L1117.4,565.0 L1117.8,563.9 L1118.2,562.8 L1118.6,561.7 L1118.9,560.6 L1119.2,559.5 L1119.4,558.5 L1119.6,557.4 L1119.8,556.3 L1119.9,555.2 L1119.9,554.1 L1119.9,553.0 L1119.8,552.0 L1119.6,550.9 L1119.4,549.8 L1119.2,548.7 L1118.9,547.6 L1118.6,546.5 L1118.2,545.5 L1117.8,544.4 L1117.4,543.3 L1117.0,542.2 L1116.6,541.1Z" fill="#1a88f0"/>
<rect x="1096.9" y="591.5" width="13.5" height="3.8" rx="1.9" fill="#ff0d57"/>
<rect x="1110.0" y="591.5" width="19.2" height="3.8" rx="1.9" fill="#1a88f0"/>
<ellipse cx="1112.4" cy="593.4" rx="2.6" ry="2.6" fill="#1a88f0"/>
<path d="M1116.6,580.8 L1116.2,581.9 L1115.9,582.9 L1115.5,584.0 L1115.1,585.0 L1114.8,586.1 L1114.5,587.1 L1114.3,588.2 L1114.1,589.2 L1113.9,590.3 L1113.7,591.3 L1113.6,592.4 L1113.6,593.4 L1113.6,594.5 L1113.7,595.5 L1113.9,596.6 L1114.1,597.6 L1114.3,598.7 L1114.5,599.7 L1114.8,600.8 L1115.1,601.8 L1115.5,602.9 L1115.9,603.9 L1116.2,605.0 L1116.6,606.0 L1116.6,606.0 L1117.0,605.0 L1117.3,603.9 L1117.7,602.9 L1118.1,601.8 L1118.4,600.8 L1118.7,599.7 L1118.9,598.7 L1119.1,597.6 L1119.3,596.6 L1119.5,595.5 L1119.6,594.5 L1119.6,593.4 L1119.6,592.4 L1119.5,591.3 L1119.3,590.3 L1119.1,589.2 L1118.9,588.2 L1118.7,587.1 L1118.4,586.1 L1118.1,585.0 L1117.7,584.0 L1117.3,582.9 L1117.0,581.9 L1116.6,580.8Z" fill="#1a88f0"/>
<rect x="1096.0" y="631.1" width="13.5" height="3.2" rx="1.6" fill="#1a88f0"/>
<rect x="1110.0" y="630.6" width="37.8" height="4.2" rx="2.1" fill="#ff0d57"/>
<path d="M1114.3,618.7 L1113.7,619.9 L1113.1,621.1 L1112.5,622.2 L1112.0,623.4 L1111.5,624.6 L1111.0,625.7 L1110.6,626.9 L1110.2,628.1 L1109.9,629.2 L1109.7,630.4 L1109.6,631.6 L1109.5,632.7 L1109.6,633.9 L1109.7,635.1 L1109.9,636.2 L1110.2,637.4 L1110.6,638.6 L1111.0,639.7 L1111.5,640.9 L1112.0,642.1 L1112.5,643.2 L1113.1,644.4 L1113.7,645.6 L1114.3,646.7 L1114.3,646.7 L1114.9,645.6 L1115.5,644.4 L1116.1,643.2 L1116.6,642.1 L1117.1,640.9 L1117.6,639.7 L1118.0,638.6 L1118.4,637.4 L1118.7,636.2 L1118.9,635.1 L1119.0,633.9 L1119.1,632.7 L1119.0,631.6 L1118.9,630.4 L1118.7,629.2 L1118.4,628.1 L1118.0,626.9 L1117.6,625.7 L1117.1,624.6 L1116.6,623.4 L1116.1,622.2 L1115.5,621.1 L1114.9,619.9 L1114.3,618.7Z" fill="#ff0d57"/>
<line x1="974.0" x2="1255.9" y1="672.2" y2="672.2" stroke="#111" stroke-width="2.9"/>
<line x1="975.8" x2="975.8" y1="672.2" y2="686.7" stroke="#333" stroke-width="3.4"/>
<text transform="translate(978.3 715.5) scale(1 1.06)" font-size="33.4" text-anchor="middle">-0.4</text>
<line x1="1045.5" x2="1045.5" y1="672.2" y2="686.7" stroke="#333" stroke-width="3.4"/>
<text transform="translate(1048.5 715.5) scale(1 1.06)" font-size="33.4" text-anchor="middle">-0.2</text>
<line x1="1115.2" x2="1115.2" y1="672.2" y2="686.7" stroke="#333" stroke-width="3.4"/>
<text transform="translate(1114.2 715.5) scale(1 1.06)" font-size="33.4" text-anchor="middle">0</text>
<line x1="1184.9" x2="1184.9" y1="672.2" y2="686.7" stroke="#333" stroke-width="3.4"/>
<text transform="translate(1184.9 715.5) scale(1 1.06)" font-size="33.4" text-anchor="middle">0.2</text>
<line x1="1254.6" x2="1254.6" y1="672.2" y2="686.7" stroke="#333" stroke-width="3.4"/>
<text transform="translate(1254.6 715.5) scale(1 1.06)" font-size="33.4" text-anchor="middle">0.4</text>
<text transform="translate(1117.7 766.9) scale(1 1.025)" font-size="37.7" text-anchor="middle">SHAP value</text>
<line x1="1353.4" x2="1353.4" y1="40.9" y2="672.6" stroke="#888" stroke-width="1.1"/>
<rect x="1353.4" y="67.0" width="343.2" height="27.7" fill="#808080"/>
<rect x="1353.4" y="106.4" width="313.2" height="27.7" fill="#808080"/>
<rect x="1353.4" y="145.9" width="270.6" height="27.7" fill="#808080"/>
<rect x="1353.4" y="185.3" width="268.3" height="27.7" fill="#808080"/>
<rect x="1353.4" y="224.8" width="208.6" height="27.7" fill="#808080"/>
<rect x="1353.4" y="264.2" width="178.6" height="27.7" fill="#808080"/>
<rect x="1353.4" y="303.7" width="169.7" height="27.7" fill="#808080"/>
<rect x="1353.4" y="343.1" width="152.3" height="27.7" fill="#808080"/>
<rect x="1353.4" y="382.6" width="134.6" height="27.7" fill="#808080"/>
<rect x="1353.4" y="422.0" width="116.3" height="27.7" fill="#808080"/>
<rect x="1353.4" y="461.4" width="108.3" height="27.7" fill="#808080"/>
<rect x="1353.4" y="500.9" width="108.0" height="27.7" fill="#808080"/>
<rect x="1353.4" y="540.4" width="92.9" height="27.7" fill="#808080"/>
<rect x="1353.4" y="579.8" width="91.7" height="27.7" fill="#808080"/>
<rect x="1353.4" y="619.3" width="90.3" height="27.7" fill="#808080"/>
<line x1="1351.1" x2="1714.9" y1="672.6" y2="672.6" stroke="#111" stroke-width="2.9"/>
<line x1="1353.4" x2="1353.4" y1="672.6" y2="687.1" stroke="#333" stroke-width="3.4"/>
<text transform="translate(1350.9 719.0) scale(1 1.06)" font-size="33.4" text-anchor="middle">0</text>
<line x1="1418.8" x2="1418.8" y1="672.6" y2="687.1" stroke="#333" stroke-width="3.4"/>
<text transform="translate(1437.4 718.4) rotate(29) scale(1 1.06)" y="12" font-size="33.4" text-anchor="middle">0.005</text>
<line x1="1484.1" x2="1484.1" y1="672.6" y2="687.1" stroke="#333" stroke-width="3.4"/>
<text transform="translate(1502.3 716.6) rotate(29) scale(1 1.06)" y="12" font-size="33.4" text-anchor="middle">0.01</text>
<line x1="1549.5" x2="1549.5" y1="672.6" y2="687.1" stroke="#333" stroke-width="3.4"/>
<text transform="translate(1574.3 724.4) rotate(29) scale(1 1.06)" y="12" font-size="33.4" text-anchor="middle">0.015</text>
<line x1="1614.8" x2="1614.8" y1="672.6" y2="687.1" stroke="#333" stroke-width="3.4"/>
<text transform="translate(1638.5 716.4) rotate(29) scale(1 1.06)" y="12" font-size="33.4" text-anchor="middle">0.02</text>
<line x1="1680.2" x2="1680.2" y1="672.6" y2="687.1" stroke="#333" stroke-width="3.4"/>
<text transform="translate(1707.8 718.2) rotate(29) scale(1 1.06)" y="12" font-size="33.4" text-anchor="middle">0.025</text>
<text transform="translate(1531.0 789.3) scale(1 1.01)" font-size="37.7" text-anchor="middle">Mean absolute SHAP value</text>
<rect x="1253.5" y="469.4" width="19.0" height="186.3" fill="url(#cb)" stroke="rgba(30,0,30,0.7)" stroke-width="1.0"/>
<text transform="translate(1242.8 495.0) scale(1 1.06)" font-size="33.2" text-anchor="end">High</text>
<text transform="translate(1239.3 650.0) scale(1 1.06)" font-size="33.2" text-anchor="end">Low</text>
<text transform="translate(1308.4 559.8) rotate(-90) scale(1 1.06)" font-size="29.6" text-anchor="middle">Feature value</text>
<text transform="translate(-1.5 841.8) scale(1 1.0)" font-size="42" font-weight="bold" style="stroke-width:0.15px">b</text>
<text transform="translate(1108.6 847.8) scale(1 1.045)" font-size="42.0" font-weight="bold" text-anchor="middle" style="stroke-width:0.15px">NRRH-HF1, Cleavage ratio index difference</text>
<text transform="translate(963.6 909.6) scale(1 1.06)" font-size="33.55" text-anchor="end">Any mismatches in the region spanning positions 4-8</text>
<text transform="translate(963.6 950.0) scale(1 1.06)" font-size="33.55" text-anchor="end">sgRNA-DNA hybridization free energy change (ΔG<tspan font-size="20.5" dy="6.2">H</tspan><tspan dy="-6.2">)</tspan></text>
<text transform="translate(963.6 990.3) scale(1 1.06)" font-size="33.55" text-anchor="end">Number of DNA bulges: 1</text>
<text transform="translate(963.6 1030.6) scale(1 1.06)" font-size="33.55" text-anchor="end">Tm of protospacer</text>
<text transform="translate(963.6 1070.9) scale(1 1.06)" font-size="33.55" text-anchor="end">Minimal free energy (MFE) of sgRNA (GN19 + scaffold)</text>
<text transform="translate(963.6 1111.2) scale(1 1.06)" font-size="33.55" text-anchor="end">Tm of spacer</text>
<text transform="translate(963.6 1151.6) scale(1 1.06)" font-size="33.55" text-anchor="end">Number of RNA bulges: 1</text>
<text transform="translate(963.6 1191.9) scale(1 1.06)" font-size="33.55" text-anchor="end">MFE of GN19</text>
<text transform="translate(963.6 1232.2) scale(1 1.06)" font-size="33.55" text-anchor="end">G, position 2 of the target sequence</text>
<text transform="translate(963.6 1272.5) scale(1 1.06)" font-size="33.55" text-anchor="end">1-nt RNA bulge in the region spanning positions 4-8</text>
<text transform="translate(963.6 1312.8) scale(1 1.06)" font-size="33.55" text-anchor="end">Number of mismatches: 2</text>
<text transform="translate(963.6 1353.2) scale(1 1.06)" font-size="33.55" text-anchor="end">Total number of Gs is 2 in the region spanning positions 1-6</text>
<text transform="translate(963.6 1393.5) scale(1 1.06)" font-size="33.55" text-anchor="end">Tm between matching sgRNA and target sequences</text>
<text transform="translate(963.6 1433.8) scale(1 1.06)" font-size="33.55" text-anchor="end">T, position 1 of the target sequence</text>
<text transform="translate(963.6 1474.1) scale(1 1.06)" font-size="33.55" text-anchor="end">1 mismatch in the region spanning positions 1-6</text>
<line x1="975" x2="1257" y1="898.2" y2="898.2" stroke="#f7f7f7" stroke-width="1.5"/>
<line x1="975" x2="1257" y1="937.5" y2="937.5" stroke="#f7f7f7" stroke-width="1.5"/>
<line x1="975" x2="1257" y1="976.7" y2="976.7" stroke="#f7f7f7" stroke-width="1.5"/>
<line x1="975" x2="1257" y1="1016.0" y2="1016.0" stroke="#f7f7f7" stroke-width="1.5"/>
<line x1="975" x2="1257" y1="1055.2" y2="1055.2" stroke="#f7f7f7" stroke-width="1.5"/>
<line x1="975" x2="1257" y1="1094.5" y2="1094.5" stroke="#f7f7f7" stroke-width="1.5"/>
<line x1="975" x2="1257" y1="1133.8" y2="1133.8" stroke="#f7f7f7" stroke-width="1.5"/>
<line x1="975" x2="1257" y1="1173.0" y2="1173.0" stroke="#f7f7f7" stroke-width="1.5"/>
<line x1="975" x2="1257" y1="1212.3" y2="1212.3" stroke="#f7f7f7" stroke-width="1.5"/>
<line x1="975" x2="1257" y1="1251.5" y2="1251.5" stroke="#f7f7f7" stroke-width="1.5"/>
<line x1="975" x2="1257" y1="1290.8" y2="1290.8" stroke="#f7f7f7" stroke-width="1.5"/>
<line x1="975" x2="1257" y1="1330.1" y2="1330.1" stroke="#f7f7f7" stroke-width="1.5"/>
<line x1="975" x2="1257" y1="1369.3" y2="1369.3" stroke="#f7f7f7" stroke-width="1.5"/>
<line x1="975" x2="1257" y1="1408.6" y2="1408.6" stroke="#f7f7f7" stroke-width="1.5"/>
<line x1="975" x2="1257" y1="1447.8" y2="1447.8" stroke="#f7f7f7" stroke-width="1.5"/>
<line x1="1117.8" x2="1117.8" y1="859.0" y2="1487.2" stroke="#a0a0a0" stroke-width="1.4"/>
<rect x="1045.5" y="896.7" width="6.8" height="3.0" rx="1.5" fill="#ff0d57"/>
<rect x="1065.0" y="896.7" width="29.0" height="3.0" rx="1.5" fill="#1a88f0"/>
<rect x="1115.0" y="896.7" width="8.0" height="3.0" rx="1.5" fill="#1a88f0"/>
<rect x="1123.0" y="896.5" width="87.0" height="3.4" rx="1.7" fill="#ff0d57"/>
<circle cx="1214.0" cy="898.2" r="1.6" fill="#ff0d57"/>
<circle cx="1224.0" cy="898.2" r="1.6" fill="#ff0d57"/>
<rect x="1233.0" y="896.8" width="10.0" height="2.8" rx="1.4" fill="#ff0d57"/>
<path d="M1094.7,898.2 L1095.4,897.6 L1096.1,896.9 L1096.8,896.2 L1097.5,895.3 L1098.2,894.3 L1098.9,893.2 L1099.6,892.1 L1100.3,890.9 L1101.1,889.7 L1101.8,888.6 L1102.5,887.5 L1103.2,886.6 L1103.9,885.9 L1104.6,885.3 L1105.3,884.9 L1106.0,884.8 L1106.7,884.9 L1107.4,885.3 L1108.1,885.9 L1108.8,886.6 L1109.5,887.5 L1110.2,888.6 L1110.9,889.7 L1111.7,890.9 L1112.4,892.1 L1113.1,893.2 L1113.8,894.3 L1114.5,895.3 L1115.2,896.2 L1115.9,896.9 L1116.6,897.6 L1117.3,898.2 L1117.3,898.2 L1116.6,898.8 L1115.9,899.5 L1115.2,900.2 L1114.5,901.1 L1113.8,902.1 L1113.1,903.2 L1112.4,904.3 L1111.7,905.5 L1110.9,906.7 L1110.2,907.8 L1109.5,908.9 L1108.8,909.8 L1108.1,910.5 L1107.4,911.1 L1106.7,911.5 L1106.0,911.6 L1105.3,911.5 L1104.6,911.1 L1103.9,910.5 L1103.2,909.8 L1102.5,908.9 L1101.8,907.8 L1101.1,906.7 L1100.3,905.5 L1099.6,904.3 L1098.9,903.2 L1098.2,902.1 L1097.5,901.1 L1096.8,900.2 L1096.1,899.5 L1095.4,898.8 L1094.7,898.2Z" fill="#ff0d57"/>
<ellipse cx="1135.0" cy="898.2" rx="12.5" ry="4.2" fill="#ff0d57"/>
<rect x="980.7" y="935.9" width="107.3" height="3.2" rx="1.6" fill="#ff0d57"/>
<rect x="989.1" y="935.9" width="2.5" height="3.2" fill="#1a88f0"/>
<rect x="999.7" y="935.9" width="2.0" height="3.2" fill="#1a88f0"/>
<rect x="1010.4" y="935.9" width="5.9" height="3.2" fill="#1a88f0"/>
<rect x="1031.2" y="935.9" width="4.1" height="3.2" fill="#1a88f0"/>
<rect x="1041.3" y="935.9" width="4.7" height="3.2" fill="#1a88f0"/>
<rect x="1057.9" y="935.9" width="5.5" height="3.2" fill="#1a88f0"/>
<rect x="1075.0" y="935.9" width="1.7" height="3.2" fill="#1a88f0"/>
<rect x="1152.0" y="935.9" width="104.7" height="3.2" rx="1.6" fill="#1a88f0"/>
<rect x="1153.3" y="935.9" width="2.5" height="3.2" fill="#8a4ad0"/>
<rect x="1165.9" y="935.9" width="3.7" height="3.2" fill="#8a4ad0"/>
<rect x="1180.1" y="935.9" width="3.5" height="3.2" fill="#8a4ad0"/>
<rect x="1195.1" y="935.9" width="5.0" height="3.2" fill="#8a4ad0"/>
<rect x="1210.7" y="935.9" width="3.6" height="3.2" fill="#8a4ad0"/>
<rect x="1226.3" y="935.9" width="5.3" height="3.2" fill="#8a4ad0"/>
<rect x="1239.0" y="935.9" width="3.8" height="3.2" fill="#8a4ad0"/>
<rect x="1248.1" y="935.9" width="3.2" height="3.2" fill="#8a4ad0"/>
<path d="M1085.0,937.5 L1087.2,936.9 L1089.4,936.2 L1091.6,935.4 L1093.8,934.6 L1095.9,933.6 L1098.1,932.5 L1100.3,931.4 L1102.5,930.3 L1104.7,929.1 L1106.9,928.0 L1109.1,927.0 L1111.2,926.1 L1113.4,925.3 L1115.6,924.7 L1117.8,924.4 L1120.0,924.3 L1122.2,924.4 L1124.4,924.7 L1126.6,925.3 L1128.8,926.1 L1130.9,927.0 L1133.1,928.0 L1135.3,929.1 L1137.5,930.3 L1139.7,931.4 L1141.9,932.5 L1144.1,933.6 L1146.2,934.6 L1148.4,935.4 L1150.6,936.2 L1152.8,936.9 L1155.0,937.5 L1155.0,937.5 L1152.8,938.0 L1150.6,938.7 L1148.4,939.5 L1146.2,940.4 L1144.1,941.3 L1141.9,942.4 L1139.7,943.5 L1137.5,944.7 L1135.3,945.8 L1133.1,946.9 L1130.9,948.0 L1128.8,948.9 L1126.6,949.6 L1124.4,950.2 L1122.2,950.5 L1120.0,950.7 L1117.8,950.5 L1115.6,950.2 L1113.4,949.6 L1111.2,948.9 L1109.1,948.0 L1106.9,946.9 L1104.7,945.8 L1102.5,944.7 L1100.3,943.5 L1098.1,942.4 L1095.9,941.3 L1093.8,940.4 L1091.6,939.5 L1089.4,938.7 L1087.2,938.0 L1085.0,937.5Z" fill="url(#g4)"/>
<rect x="1072.7" y="975.1" width="15.3" height="3.2" rx="1.6" fill="#ff0d57"/>
<path d="M1085.5,976.7 L1086.0,976.4 L1086.5,976.0 L1087.0,975.6 L1087.5,975.1 L1088.0,974.5 L1088.5,973.9 L1089.0,973.3 L1089.5,972.6 L1090.0,972.0 L1090.5,971.3 L1091.0,970.8 L1091.5,970.2 L1092.0,969.8 L1092.5,969.5 L1093.0,969.3 L1093.5,969.2 L1094.0,969.3 L1094.5,969.5 L1095.0,969.8 L1095.5,970.2 L1096.0,970.8 L1096.5,971.3 L1097.0,972.0 L1097.5,972.6 L1098.0,973.3 L1098.5,973.9 L1099.0,974.5 L1099.5,975.1 L1100.0,975.6 L1100.5,976.0 L1101.0,976.4 L1101.5,976.7 L1101.5,976.7 L1101.0,977.0 L1100.5,977.4 L1100.0,977.9 L1099.5,978.4 L1099.0,978.9 L1098.5,979.5 L1098.0,980.2 L1097.5,980.8 L1097.0,981.5 L1096.5,982.1 L1096.0,982.7 L1095.5,983.2 L1095.0,983.6 L1094.5,984.0 L1094.0,984.2 L1093.5,984.2 L1093.0,984.2 L1092.5,984.0 L1092.0,983.6 L1091.5,983.2 L1091.0,982.7 L1090.5,982.1 L1090.0,981.5 L1089.5,980.8 L1089.0,980.2 L1088.5,979.5 L1088.0,978.9 L1087.5,978.4 L1087.0,977.9 L1086.5,977.4 L1086.0,977.0 L1085.5,976.7Z" fill="#ff0d57"/>
<rect x="1099.0" y="975.1" width="6.6" height="3.2" rx="1.6" fill="#1a88f0"/>
<rect x="1105.6" y="975.1" width="6.8" height="3.2" rx="1.6" fill="#ff0d57"/>
<rect x="1112.4" y="975.1" width="5.6" height="3.2" rx="1.6" fill="#1a88f0"/>
<rect x="1125.0" y="975.0" width="28.0" height="3.4" rx="1.7" fill="#1a88f0"/>
<path d="M1113.4,976.7 L1114.1,976.6 L1114.8,976.4 L1115.6,976.2 L1116.3,976.0 L1117.0,975.8 L1117.8,975.2 L1118.5,974.5 L1119.2,973.4 L1119.9,972.2 L1120.7,970.7 L1121.4,969.0 L1122.1,967.3 L1122.8,965.8 L1123.5,964.5 L1124.3,963.7 L1125.0,963.4 L1125.7,963.7 L1126.5,964.5 L1127.2,965.8 L1127.9,967.3 L1128.6,969.0 L1129.3,970.7 L1130.1,972.2 L1130.8,973.4 L1131.5,974.5 L1132.2,975.2 L1133.0,975.8 L1133.7,976.0 L1134.4,976.2 L1135.2,976.4 L1135.9,976.6 L1136.6,976.7 L1136.6,976.7 L1135.9,976.9 L1135.2,977.0 L1134.4,977.2 L1133.7,977.4 L1133.0,977.6 L1132.2,978.2 L1131.5,979.0 L1130.8,980.0 L1130.1,981.3 L1129.3,982.8 L1128.6,984.4 L1127.9,986.1 L1127.2,987.7 L1126.5,988.9 L1125.7,989.7 L1125.0,990.0 L1124.3,989.7 L1123.5,988.9 L1122.8,987.7 L1122.1,986.1 L1121.4,984.4 L1120.7,982.8 L1119.9,981.3 L1119.2,980.0 L1118.5,979.0 L1117.8,978.2 L1117.0,977.6 L1116.3,977.4 L1115.6,977.2 L1114.8,977.0 L1114.1,976.9 L1113.4,976.7Z" fill="#1a88f0"/>
<rect x="978.7" y="1014.4" width="117.3" height="3.2" rx="1.6" fill="#ff0d57"/>
<rect x="1146.0" y="1014.4" width="37.0" height="3.2" rx="1.6" fill="#1a88f0"/>
<rect x="1151.5" y="1014.4" width="2.8" height="3.2" fill="#1a88f0"/>
<rect x="1162.8" y="1014.4" width="2.5" height="3.2" fill="#1a88f0"/>
<rect x="1170.8" y="1014.4" width="2.9" height="3.2" fill="#1a88f0"/>
<rect x="1180.7" y="1014.4" width="2.3" height="3.2" fill="#1a88f0"/>
<rect x="1183.0" y="1014.4" width="70.8" height="3.2" rx="1.6" fill="#ff0d57"/>
<rect x="1190.5" y="1014.4" width="2.6" height="3.2" fill="#c02090"/>
<rect x="1211.1" y="1014.4" width="3.2" height="3.2" fill="#c02090"/>
<rect x="1230.8" y="1014.4" width="4.9" height="3.2" fill="#c02090"/>
<ellipse cx="1135.0" cy="1016.0" rx="12.0" ry="4.5" fill="url(#g5)"/>
<path d="M1093.9,1016.0 L1095.1,1015.4 L1096.3,1014.7 L1097.5,1013.8 L1098.8,1012.9 L1100.0,1011.9 L1101.2,1010.8 L1102.4,1009.6 L1103.6,1008.4 L1104.8,1007.1 L1106.0,1005.9 L1107.2,1004.9 L1108.5,1003.9 L1109.7,1003.1 L1110.9,1002.5 L1112.1,1002.1 L1113.3,1002.0 L1114.5,1002.1 L1115.7,1002.5 L1116.9,1003.1 L1118.1,1003.9 L1119.4,1004.9 L1120.6,1005.9 L1121.8,1007.1 L1123.0,1008.4 L1124.2,1009.6 L1125.4,1010.8 L1126.6,1011.9 L1127.8,1012.9 L1129.1,1013.8 L1130.3,1014.7 L1131.5,1015.4 L1132.7,1016.0 L1132.7,1016.0 L1131.5,1016.6 L1130.3,1017.3 L1129.1,1018.1 L1127.8,1019.0 L1126.6,1020.1 L1125.4,1021.2 L1124.2,1022.4 L1123.0,1023.6 L1121.8,1024.8 L1120.6,1026.0 L1119.4,1027.1 L1118.1,1028.1 L1116.9,1028.9 L1115.7,1029.5 L1114.5,1029.9 L1113.3,1030.0 L1112.1,1029.9 L1110.9,1029.5 L1109.7,1028.9 L1108.5,1028.1 L1107.2,1027.1 L1106.0,1026.0 L1104.8,1024.8 L1103.6,1023.6 L1102.4,1022.4 L1101.2,1021.2 L1100.0,1020.1 L1098.8,1019.0 L1097.5,1018.1 L1096.3,1017.3 L1095.1,1016.6 L1093.9,1016.0Z" fill="url(#g6)"/>
<circle cx="981.2" cy="1055.2" r="1.7" fill="#ff0d57"/>
<circle cx="986.0" cy="1055.2" r="1.7" fill="#ff0d57"/>
<rect x="992.0" y="1053.7" width="107.0" height="3.0" rx="1.5" fill="#ff0d57"/>
<rect x="993.9" y="1053.7" width="2.2" height="3.0" fill="#a33ac8"/>
<rect x="1005.0" y="1053.7" width="2.5" height="3.0" fill="#a33ac8"/>
<rect x="1012.7" y="1053.7" width="2.6" height="3.0" fill="#a33ac8"/>
<rect x="1021.3" y="1053.7" width="3.0" height="3.0" fill="#a33ac8"/>
<rect x="1033.5" y="1053.7" width="2.9" height="3.0" fill="#a33ac8"/>
<rect x="1046.0" y="1053.7" width="3.0" height="3.0" fill="#a33ac8"/>
<rect x="1053.1" y="1053.7" width="2.9" height="3.0" fill="#a33ac8"/>
<rect x="1061.8" y="1053.7" width="2.5" height="3.0" fill="#a33ac8"/>
<rect x="1072.6" y="1053.7" width="1.8" height="3.0" fill="#a33ac8"/>
<rect x="1081.8" y="1053.7" width="3.5" height="3.0" fill="#a33ac8"/>
<rect x="1091.6" y="1053.7" width="1.7" height="3.0" fill="#a33ac8"/>
<rect x="1136.0" y="1053.7" width="111.0" height="3.0" rx="1.5" fill="#b02aa8"/>
<rect x="1139.7" y="1053.7" width="4.9" height="3.0" fill="#1a88f0"/>
<rect x="1151.0" y="1053.7" width="4.4" height="3.0" fill="#1a88f0"/>
<rect x="1166.4" y="1053.7" width="1.5" height="3.0" fill="#1a88f0"/>
<rect x="1176.0" y="1053.7" width="2.0" height="3.0" fill="#1a88f0"/>
<rect x="1184.5" y="1053.7" width="5.1" height="3.0" fill="#1a88f0"/>
<rect x="1200.2" y="1053.7" width="4.5" height="3.0" fill="#1a88f0"/>
<rect x="1214.3" y="1053.7" width="2.7" height="3.0" fill="#1a88f0"/>
<rect x="1223.6" y="1053.7" width="4.2" height="3.0" fill="#1a88f0"/>
<rect x="1235.0" y="1053.7" width="3.9" height="3.0" fill="#1a88f0"/>
<path d="M1098.6,1055.2 L1099.8,1054.7 L1101.0,1054.0 L1102.2,1053.3 L1103.3,1052.4 L1104.5,1051.4 L1105.7,1050.4 L1106.9,1049.3 L1108.1,1048.2 L1109.3,1047.0 L1110.5,1045.9 L1111.7,1044.9 L1112.8,1044.0 L1114.0,1043.3 L1115.2,1042.7 L1116.4,1042.4 L1117.6,1042.2 L1118.8,1042.4 L1120.0,1042.7 L1121.2,1043.3 L1122.3,1044.0 L1123.5,1044.9 L1124.7,1045.9 L1125.9,1047.0 L1127.1,1048.2 L1128.3,1049.3 L1129.5,1050.4 L1130.7,1051.4 L1131.8,1052.4 L1133.0,1053.3 L1134.2,1054.0 L1135.4,1054.7 L1136.6,1055.2 L1136.6,1055.2 L1135.4,1055.8 L1134.2,1056.5 L1133.0,1057.2 L1131.8,1058.1 L1130.7,1059.0 L1129.5,1060.1 L1128.3,1061.2 L1127.1,1062.3 L1125.9,1063.5 L1124.7,1064.6 L1123.5,1065.6 L1122.3,1066.5 L1121.2,1067.2 L1120.0,1067.8 L1118.8,1068.1 L1117.6,1068.2 L1116.4,1068.1 L1115.2,1067.8 L1114.0,1067.2 L1112.8,1066.5 L1111.7,1065.6 L1110.5,1064.6 L1109.3,1063.5 L1108.1,1062.3 L1106.9,1061.2 L1105.7,1060.1 L1104.5,1059.0 L1103.3,1058.1 L1102.2,1057.2 L1101.0,1056.5 L1099.8,1055.8 L1098.6,1055.2Z" fill="url(#g7)"/>
<circle cx="978.7" cy="1094.5" r="1.6" fill="#ff0d57"/>
<rect x="984.0" y="1093.1" width="6.0" height="2.8" rx="1.4" fill="#ff0d57"/>
<circle cx="996.0" cy="1094.5" r="1.6" fill="#ff0d57"/>
<rect x="1000.0" y="1093.1" width="28.0" height="2.8" rx="1.4" fill="#ff0d57"/>
<rect x="1002.7" y="1093.1" width="1.7" height="2.8" fill="#c0209f"/>
<rect x="1008.2" y="1093.1" width="1.8" height="2.8" fill="#c0209f"/>
<rect x="1017.6" y="1093.1" width="2.1" height="2.8" fill="#c0209f"/>
<rect x="1028.0" y="1093.0" width="69.0" height="3.0" rx="1.5" fill="#9a40c8"/>
<rect x="1034.9" y="1093.0" width="3.9" height="3.0" fill="#ff0d57"/>
<rect x="1043.8" y="1093.0" width="2.1" height="3.0" fill="#ff0d57"/>
<rect x="1056.6" y="1093.0" width="2.4" height="3.0" fill="#ff0d57"/>
<rect x="1063.9" y="1093.0" width="3.4" height="3.0" fill="#ff0d57"/>
<rect x="1073.5" y="1093.0" width="2.2" height="3.0" fill="#ff0d57"/>
<rect x="1086.1" y="1093.0" width="1.8" height="3.0" fill="#ff0d57"/>
<rect x="1137.0" y="1093.0" width="80.0" height="3.0" rx="1.5" fill="#1a88f0"/>
<rect x="1140.2" y="1093.0" width="3.7" height="3.0" fill="#a040c0"/>
<rect x="1154.1" y="1093.0" width="2.7" height="3.0" fill="#a040c0"/>
<rect x="1163.6" y="1093.0" width="2.8" height="3.0" fill="#a040c0"/>
<rect x="1170.3" y="1093.0" width="3.2" height="3.0" fill="#a040c0"/>
<rect x="1178.3" y="1093.0" width="3.1" height="3.0" fill="#a040c0"/>
<rect x="1192.3" y="1093.0" width="3.3" height="3.0" fill="#a040c0"/>
<rect x="1200.4" y="1093.0" width="1.6" height="3.0" fill="#a040c0"/>
<rect x="1205.8" y="1093.0" width="1.8" height="3.0" fill="#a040c0"/>
<rect x="1220.0" y="1093.1" width="8.6" height="2.8" rx="1.4" fill="#ff0d57"/>
<path d="M1097.6,1094.5 L1098.8,1093.9 L1100.1,1093.2 L1101.3,1092.4 L1102.6,1091.5 L1103.8,1090.5 L1105.1,1089.4 L1106.3,1088.3 L1107.6,1087.1 L1108.8,1085.9 L1110.1,1084.8 L1111.3,1083.7 L1112.6,1082.7 L1113.8,1082.0 L1115.1,1081.4 L1116.3,1081.0 L1117.6,1080.9 L1118.8,1081.0 L1120.1,1081.4 L1121.3,1082.0 L1122.6,1082.7 L1123.8,1083.7 L1125.1,1084.8 L1126.3,1085.9 L1127.6,1087.1 L1128.8,1088.3 L1130.1,1089.4 L1131.3,1090.5 L1132.6,1091.5 L1133.8,1092.4 L1135.1,1093.2 L1136.3,1093.9 L1137.6,1094.5 L1137.6,1094.5 L1136.3,1095.1 L1135.1,1095.8 L1133.8,1096.6 L1132.6,1097.5 L1131.3,1098.5 L1130.1,1099.6 L1128.8,1100.7 L1127.6,1101.9 L1126.3,1103.1 L1125.1,1104.2 L1123.8,1105.3 L1122.6,1106.3 L1121.3,1107.0 L1120.1,1107.6 L1118.8,1108.0 L1117.6,1108.1 L1116.3,1108.0 L1115.1,1107.6 L1113.8,1107.0 L1112.6,1106.3 L1111.3,1105.3 L1110.1,1104.2 L1108.8,1103.1 L1107.6,1101.9 L1106.3,1100.7 L1105.1,1099.6 L1103.8,1098.5 L1102.6,1097.5 L1101.3,1096.6 L1100.1,1095.8 L1098.8,1095.1 L1097.6,1094.5Z" fill="url(#g8)"/>
<rect x="1072.7" y="1132.2" width="38.7" height="3.2" rx="1.6" fill="#ff0d57"/>
<rect x="1111.0" y="1132.2" width="7.0" height="3.2" rx="1.6" fill="#1a88f0"/>
<rect x="1118.0" y="1132.2" width="29.2" height="3.2" rx="1.6" fill="#1a88f0"/>
<circle cx="1153.0" cy="1133.8" r="1.8" fill="#ff0d57"/>
<path d="M1122.0,1120.2 L1121.6,1121.3 L1121.2,1122.4 L1120.7,1123.6 L1120.4,1124.7 L1120.0,1125.8 L1119.7,1127.0 L1119.4,1128.1 L1119.1,1129.2 L1118.9,1130.4 L1118.7,1131.5 L1118.6,1132.6 L1118.6,1133.8 L1118.6,1134.9 L1118.7,1136.0 L1118.9,1137.2 L1119.1,1138.3 L1119.4,1139.4 L1119.7,1140.6 L1120.0,1141.7 L1120.4,1142.8 L1120.7,1144.0 L1121.2,1145.1 L1121.6,1146.2 L1122.0,1147.4 L1122.0,1147.4 L1122.4,1146.2 L1122.8,1145.1 L1123.3,1144.0 L1123.6,1142.8 L1124.0,1141.7 L1124.3,1140.6 L1124.6,1139.4 L1124.9,1138.3 L1125.1,1137.2 L1125.3,1136.0 L1125.4,1134.9 L1125.4,1133.8 L1125.4,1132.6 L1125.3,1131.5 L1125.1,1130.4 L1124.9,1129.2 L1124.6,1128.1 L1124.3,1127.0 L1124.0,1125.8 L1123.6,1124.7 L1123.3,1123.6 L1122.8,1122.4 L1122.4,1121.3 L1122.0,1120.2Z" fill="#1a88f0"/>
<ellipse cx="1122.0" cy="1133.8" rx="6.0" ry="3.0" fill="#1a88f0"/>
<circle cx="984.5" cy="1173.0" r="1.6" fill="#ff0d57"/>
<rect x="991.0" y="1171.6" width="19.7" height="2.8" rx="1.4" fill="#ff0d57"/>
<rect x="1021.0" y="1171.5" width="80.7" height="3.0" rx="1.5" fill="#1a88f0"/>
<rect x="1025.1" y="1171.5" width="2.6" height="3.0" fill="#ff0d57"/>
<rect x="1034.2" y="1171.5" width="4.6" height="3.0" fill="#ff0d57"/>
<rect x="1051.0" y="1171.5" width="2.1" height="3.0" fill="#ff0d57"/>
<rect x="1064.1" y="1171.5" width="2.8" height="3.0" fill="#ff0d57"/>
<rect x="1071.4" y="1171.5" width="3.2" height="3.0" fill="#ff0d57"/>
<rect x="1079.3" y="1171.5" width="2.0" height="3.0" fill="#ff0d57"/>
<rect x="1090.8" y="1171.5" width="4.6" height="3.0" fill="#ff0d57"/>
<rect x="1133.0" y="1171.5" width="72.3" height="3.0" rx="1.5" fill="#1a88f0"/>
<rect x="1137.7" y="1171.5" width="3.6" height="3.0" fill="#ff0d57"/>
<rect x="1153.9" y="1171.5" width="2.2" height="3.0" fill="#ff0d57"/>
<rect x="1166.3" y="1171.5" width="4.4" height="3.0" fill="#ff0d57"/>
<rect x="1175.8" y="1171.5" width="2.5" height="3.0" fill="#ff0d57"/>
<rect x="1190.1" y="1171.5" width="1.5" height="3.0" fill="#ff0d57"/>
<circle cx="1228.6" cy="1173.0" r="1.6" fill="#1a88f0"/>
<path d="M1104.5,1173.0 L1105.4,1172.4 L1106.3,1171.8 L1107.2,1171.0 L1108.1,1170.1 L1109.0,1169.1 L1109.9,1168.0 L1110.8,1166.8 L1111.8,1165.7 L1112.7,1164.5 L1113.6,1163.3 L1114.5,1162.3 L1115.4,1161.4 L1116.3,1160.6 L1117.2,1160.0 L1118.1,1159.6 L1119.0,1159.5 L1119.9,1159.6 L1120.8,1160.0 L1121.7,1160.6 L1122.6,1161.4 L1123.5,1162.3 L1124.4,1163.3 L1125.3,1164.5 L1126.2,1165.7 L1127.2,1166.8 L1128.1,1168.0 L1129.0,1169.1 L1129.9,1170.1 L1130.8,1171.0 L1131.7,1171.8 L1132.6,1172.4 L1133.5,1173.0 L1133.5,1173.0 L1132.6,1173.6 L1131.7,1174.3 L1130.8,1175.1 L1129.9,1176.0 L1129.0,1177.0 L1128.1,1178.1 L1127.2,1179.2 L1126.2,1180.4 L1125.3,1181.6 L1124.4,1182.7 L1123.5,1183.7 L1122.6,1184.7 L1121.7,1185.5 L1120.8,1186.0 L1119.9,1186.4 L1119.0,1186.5 L1118.1,1186.4 L1117.2,1186.0 L1116.3,1185.5 L1115.4,1184.7 L1114.5,1183.7 L1113.6,1182.7 L1112.7,1181.6 L1111.8,1180.4 L1110.8,1179.2 L1109.9,1178.1 L1109.0,1177.0 L1108.1,1176.0 L1107.2,1175.1 L1106.3,1174.3 L1105.4,1173.6 L1104.5,1173.0Z" fill="url(#g9)"/>
<rect x="1099.8" y="1210.7" width="9.7" height="3.2" rx="1.6" fill="#1a88f0"/>
<rect x="1113.0" y="1210.6" width="39.0" height="3.4" rx="1.7" fill="#ff0d57"/>
<path d="M1113.3,1199.3 L1112.8,1200.4 L1112.3,1201.4 L1111.9,1202.5 L1111.4,1203.6 L1111.0,1204.7 L1110.6,1205.8 L1110.3,1206.9 L1110.0,1207.9 L1109.8,1209.0 L1109.6,1210.1 L1109.4,1211.2 L1109.4,1212.3 L1109.4,1213.4 L1109.6,1214.4 L1109.8,1215.5 L1110.0,1216.6 L1110.3,1217.7 L1110.6,1218.8 L1111.0,1219.9 L1111.4,1220.9 L1111.9,1222.0 L1112.3,1223.1 L1112.8,1224.2 L1113.3,1225.3 L1113.3,1225.3 L1113.8,1224.2 L1114.3,1223.1 L1114.7,1222.0 L1115.2,1220.9 L1115.6,1219.9 L1116.0,1218.8 L1116.3,1217.7 L1116.6,1216.6 L1116.8,1215.5 L1117.0,1214.4 L1117.2,1213.4 L1117.2,1212.3 L1117.2,1211.2 L1117.0,1210.1 L1116.8,1209.0 L1116.6,1207.9 L1116.3,1206.9 L1116.0,1205.8 L1115.6,1204.7 L1115.2,1203.6 L1114.7,1202.5 L1114.3,1201.4 L1113.8,1200.4 L1113.3,1199.3Z" fill="#ff0d57"/>
<ellipse cx="1128.0" cy="1212.3" rx="4.5" ry="3.2" fill="#ff0d57"/>
<circle cx="1065.9" cy="1251.5" r="1.8" fill="#ff0d57"/>
<rect x="1074.6" y="1249.8" width="42.6" height="3.4" rx="1.7" fill="#ff0d57"/>
<rect x="1123.0" y="1249.9" width="8.0" height="3.2" rx="1.6" fill="#1a88f0"/>
<rect x="1133.0" y="1250.0" width="7.0" height="3.0" rx="1.5" fill="#ff0d57"/>
<rect x="1143.0" y="1250.0" width="4.0" height="3.0" rx="1.5" fill="#ff0d57"/>
<circle cx="1151.0" cy="1251.5" r="1.6" fill="#ff0d57"/>
<path d="M1121.0,1238.9 L1120.6,1240.0 L1120.3,1241.0 L1119.9,1242.1 L1119.5,1243.1 L1119.2,1244.2 L1118.9,1245.2 L1118.7,1246.3 L1118.5,1247.3 L1118.3,1248.4 L1118.1,1249.4 L1118.0,1250.5 L1118.0,1251.5 L1118.0,1252.6 L1118.1,1253.6 L1118.3,1254.7 L1118.5,1255.7 L1118.7,1256.8 L1118.9,1257.8 L1119.2,1258.9 L1119.5,1259.9 L1119.9,1261.0 L1120.3,1262.0 L1120.6,1263.1 L1121.0,1264.1 L1121.0,1264.1 L1121.4,1263.1 L1121.7,1262.0 L1122.1,1261.0 L1122.5,1259.9 L1122.8,1258.9 L1123.1,1257.8 L1123.3,1256.8 L1123.5,1255.7 L1123.7,1254.7 L1123.9,1253.6 L1124.0,1252.6 L1124.0,1251.5 L1124.0,1250.5 L1123.9,1249.4 L1123.7,1248.4 L1123.5,1247.3 L1123.3,1246.3 L1123.1,1245.2 L1122.8,1244.2 L1122.5,1243.1 L1122.1,1242.1 L1121.7,1241.0 L1121.4,1240.0 L1121.0,1238.9Z" fill="#8a40d0"/>
<rect x="1097.8" y="1289.2" width="9.7" height="3.2" rx="1.6" fill="#1a88f0"/>
<rect x="1124.0" y="1289.1" width="41.6" height="3.4" rx="1.7" fill="#ff0d57"/>
<path d="M1112.0,1277.8 L1111.4,1278.9 L1110.8,1280.0 L1110.2,1281.0 L1109.6,1282.1 L1109.0,1283.2 L1108.6,1284.3 L1108.1,1285.4 L1107.8,1286.5 L1107.5,1287.5 L1107.2,1288.6 L1107.1,1289.7 L1107.0,1290.8 L1107.1,1291.9 L1107.2,1293.0 L1107.5,1294.0 L1107.8,1295.1 L1108.1,1296.2 L1108.6,1297.3 L1109.0,1298.4 L1109.6,1299.5 L1110.2,1300.5 L1110.8,1301.6 L1111.4,1302.7 L1112.0,1303.8 L1112.0,1303.8 L1112.6,1302.7 L1113.2,1301.6 L1113.8,1300.5 L1114.4,1299.5 L1115.0,1298.4 L1115.4,1297.3 L1115.9,1296.2 L1116.2,1295.1 L1116.5,1294.0 L1116.8,1293.0 L1116.9,1291.9 L1117.0,1290.8 L1116.9,1289.7 L1116.8,1288.6 L1116.5,1287.5 L1116.2,1286.5 L1115.9,1285.4 L1115.4,1284.3 L1115.0,1283.2 L1114.4,1282.1 L1113.8,1281.0 L1113.2,1280.0 L1112.6,1278.9 L1112.0,1277.8Z" fill="#ff0d57"/>
<path d="M1118.0,1279.8 L1117.5,1280.7 L1117.0,1281.6 L1116.5,1282.5 L1116.1,1283.5 L1115.6,1284.4 L1115.2,1285.3 L1114.9,1286.2 L1114.6,1287.1 L1114.4,1288.0 L1114.2,1289.0 L1114.1,1289.9 L1114.0,1290.8 L1114.1,1291.7 L1114.2,1292.6 L1114.4,1293.5 L1114.6,1294.5 L1114.9,1295.4 L1115.2,1296.3 L1115.6,1297.2 L1116.1,1298.1 L1116.5,1299.0 L1117.0,1300.0 L1117.5,1300.9 L1118.0,1301.8 L1118.0,1301.8 L1118.5,1300.9 L1119.0,1300.0 L1119.5,1299.0 L1119.9,1298.1 L1120.4,1297.2 L1120.8,1296.3 L1121.1,1295.4 L1121.4,1294.5 L1121.6,1293.5 L1121.8,1292.6 L1121.9,1291.7 L1122.0,1290.8 L1121.9,1289.9 L1121.8,1289.0 L1121.6,1288.0 L1121.4,1287.1 L1121.1,1286.2 L1120.8,1285.3 L1120.4,1284.4 L1119.9,1283.5 L1119.5,1282.5 L1119.0,1281.6 L1118.5,1280.7 L1118.0,1279.8Z" fill="#ff0d57"/>
<ellipse cx="1124.0" cy="1290.8" rx="4.5" ry="6.0" fill="#ff0d57"/>
<rect x="1069.8" y="1328.7" width="5.8" height="2.8" rx="1.4" fill="#ff0d57"/>
<circle cx="1081.0" cy="1330.1" r="1.6" fill="#1a88f0"/>
<rect x="1086.0" y="1328.5" width="21.5" height="3.2" rx="1.6" fill="#1a88f0"/>
<rect x="1113.0" y="1328.4" width="77.8" height="3.4" rx="1.7" fill="#ff0d57"/>
<path d="M1113.0,1317.5 L1112.4,1318.5 L1111.8,1319.6 L1111.2,1320.6 L1110.6,1321.7 L1110.0,1322.7 L1109.6,1323.8 L1109.1,1324.8 L1108.8,1325.9 L1108.5,1326.9 L1108.2,1328.0 L1108.1,1329.0 L1108.0,1330.1 L1108.1,1331.1 L1108.2,1332.2 L1108.5,1333.2 L1108.8,1334.3 L1109.1,1335.3 L1109.6,1336.4 L1110.0,1337.4 L1110.6,1338.5 L1111.2,1339.5 L1111.8,1340.6 L1112.4,1341.6 L1113.0,1342.7 L1113.0,1342.7 L1113.6,1341.6 L1114.2,1340.6 L1114.8,1339.5 L1115.4,1338.5 L1116.0,1337.4 L1116.4,1336.4 L1116.9,1335.3 L1117.2,1334.3 L1117.5,1333.2 L1117.8,1332.2 L1117.9,1331.1 L1118.0,1330.1 L1117.9,1329.0 L1117.8,1328.0 L1117.5,1326.9 L1117.2,1325.9 L1116.9,1324.8 L1116.4,1323.8 L1116.0,1322.7 L1115.4,1321.7 L1114.8,1320.6 L1114.2,1319.6 L1113.6,1318.5 L1113.0,1317.5Z" fill="#ff0d57"/>
<ellipse cx="1122.0" cy="1330.1" rx="3.5" ry="3.5" fill="#ff0d57"/>
<rect x="1066.0" y="1367.7" width="39.6" height="3.2" rx="1.6" fill="#ff0d57"/>
<rect x="1067.5" y="1367.7" width="2.8" height="3.2" fill="#1a88f0"/>
<rect x="1075.7" y="1367.7" width="1.6" height="3.2" fill="#1a88f0"/>
<rect x="1083.4" y="1367.7" width="1.7" height="3.2" fill="#1a88f0"/>
<rect x="1089.9" y="1367.7" width="3.8" height="3.2" fill="#1a88f0"/>
<rect x="1098.1" y="1367.7" width="2.4" height="3.2" fill="#1a88f0"/>
<rect x="1132.7" y="1367.6" width="73.6" height="3.4" rx="1.7" fill="#1a88f0"/>
<rect x="1141.4" y="1367.6" width="2.5" height="3.4" fill="#ff0d57"/>
<rect x="1152.7" y="1367.6" width="2.8" height="3.4" fill="#ff0d57"/>
<rect x="1168.9" y="1367.6" width="3.2" height="3.4" fill="#ff0d57"/>
<rect x="1183.0" y="1367.6" width="3.2" height="3.4" fill="#ff0d57"/>
<rect x="1197.3" y="1367.6" width="4.5" height="3.4" fill="#ff0d57"/>
<rect x="1214.0" y="1367.9" width="5.0" height="2.8" rx="1.4" fill="#1a88f0"/>
<rect x="1222.0" y="1367.9" width="18.0" height="2.8" rx="1.4" fill="#1a88f0"/>
<rect x="1243.0" y="1367.9" width="7.0" height="2.8" rx="1.4" fill="#1a88f0"/>
<path d="M1104.5,1369.3 L1105.3,1368.8 L1106.2,1368.1 L1107.0,1367.3 L1107.9,1366.5 L1108.7,1365.5 L1109.6,1364.5 L1110.4,1363.4 L1111.2,1362.2 L1112.1,1361.1 L1112.9,1360.0 L1113.8,1359.0 L1114.6,1358.1 L1115.5,1357.3 L1116.3,1356.8 L1117.2,1356.4 L1118.0,1356.3 L1118.8,1356.4 L1119.7,1356.8 L1120.5,1357.3 L1121.4,1358.1 L1122.2,1359.0 L1123.1,1360.0 L1123.9,1361.1 L1124.8,1362.2 L1125.6,1363.4 L1126.4,1364.5 L1127.3,1365.5 L1128.1,1366.5 L1129.0,1367.3 L1129.8,1368.1 L1130.7,1368.8 L1131.5,1369.3 L1131.5,1369.3 L1130.7,1369.9 L1129.8,1370.5 L1129.0,1371.3 L1128.1,1372.2 L1127.3,1373.1 L1126.4,1374.2 L1125.6,1375.3 L1124.8,1376.4 L1123.9,1377.5 L1123.1,1378.6 L1122.2,1379.7 L1121.4,1380.6 L1120.5,1381.3 L1119.7,1381.9 L1118.8,1382.2 L1118.0,1382.3 L1117.2,1382.2 L1116.3,1381.9 L1115.5,1381.3 L1114.6,1380.6 L1113.8,1379.7 L1112.9,1378.6 L1112.1,1377.5 L1111.2,1376.4 L1110.4,1375.3 L1109.6,1374.2 L1108.7,1373.1 L1107.9,1372.2 L1107.0,1371.3 L1106.2,1370.5 L1105.3,1369.9 L1104.5,1369.3Z" fill="url(#g10)"/>
<rect x="1105.6" y="1407.0" width="5.8" height="3.2" rx="1.6" fill="#1a88f0"/>
<rect x="1114.0" y="1406.8" width="37.0" height="3.6" rx="1.8" fill="#ff0d57"/>
<path d="M1114.3,1396.0 L1113.9,1397.0 L1113.4,1398.1 L1113.0,1399.1 L1112.6,1400.2 L1112.2,1401.2 L1111.9,1402.3 L1111.6,1403.3 L1111.3,1404.4 L1111.1,1405.4 L1111.0,1406.5 L1110.8,1407.5 L1110.8,1408.6 L1110.8,1409.6 L1111.0,1410.7 L1111.1,1411.7 L1111.3,1412.8 L1111.6,1413.8 L1111.9,1414.9 L1112.2,1415.9 L1112.6,1417.0 L1113.0,1418.0 L1113.4,1419.1 L1113.9,1420.1 L1114.3,1421.2 L1114.3,1421.2 L1114.7,1420.1 L1115.2,1419.1 L1115.6,1418.0 L1116.0,1417.0 L1116.4,1415.9 L1116.7,1414.9 L1117.0,1413.8 L1117.3,1412.8 L1117.5,1411.7 L1117.6,1410.7 L1117.8,1409.6 L1117.8,1408.6 L1117.8,1407.5 L1117.6,1406.5 L1117.5,1405.4 L1117.3,1404.4 L1117.0,1403.3 L1116.7,1402.3 L1116.4,1401.2 L1116.0,1400.2 L1115.6,1399.1 L1115.2,1398.1 L1114.7,1397.0 L1114.3,1396.0Z" fill="#ff0d57"/>
<rect x="1101.7" y="1446.2" width="7.8" height="3.2" rx="1.6" fill="#1a88f0"/>
<rect x="1114.0" y="1446.0" width="38.0" height="3.6" rx="1.8" fill="#ff0d57"/>
<path d="M1114.3,1435.2 L1113.8,1436.3 L1113.2,1437.3 L1112.6,1438.4 L1112.1,1439.4 L1111.6,1440.5 L1111.2,1441.5 L1110.8,1442.6 L1110.5,1443.6 L1110.2,1444.7 L1110.0,1445.7 L1109.9,1446.8 L1109.8,1447.8 L1109.9,1448.9 L1110.0,1449.9 L1110.2,1451.0 L1110.5,1452.0 L1110.8,1453.1 L1111.2,1454.1 L1111.6,1455.2 L1112.1,1456.2 L1112.6,1457.3 L1113.2,1458.3 L1113.8,1459.4 L1114.3,1460.4 L1114.3,1460.4 L1114.8,1459.4 L1115.4,1458.3 L1116.0,1457.3 L1116.5,1456.2 L1117.0,1455.2 L1117.4,1454.1 L1117.8,1453.1 L1118.1,1452.0 L1118.4,1451.0 L1118.6,1449.9 L1118.7,1448.9 L1118.8,1447.8 L1118.7,1446.8 L1118.6,1445.7 L1118.4,1444.7 L1118.1,1443.6 L1117.8,1442.6 L1117.4,1441.5 L1117.0,1440.5 L1116.5,1439.4 L1116.0,1438.4 L1115.4,1437.3 L1114.8,1436.3 L1114.3,1435.2Z" fill="#ff0d57"/>
<ellipse cx="1124.0" cy="1447.8" rx="6.0" ry="3.0" fill="#ff0d57"/>
<line x1="977.0" x2="1257.7" y1="1487.2" y2="1487.2" stroke="#111" stroke-width="2.9"/>
<line x1="1018.4" x2="1018.4" y1="1487.2" y2="1501.7" stroke="#333" stroke-width="3.4"/>
<text transform="translate(1018.7 1533.5) scale(1 1.06)" font-size="33.4" text-anchor="middle">-0.5</text>
<line x1="1117.8" x2="1117.8" y1="1487.2" y2="1501.7" stroke="#333" stroke-width="3.4"/>
<text transform="translate(1115.5 1533.5) scale(1 1.06)" font-size="33.4" text-anchor="middle">0</text>
<line x1="1217.2" x2="1217.2" y1="1487.2" y2="1501.7" stroke="#333" stroke-width="3.4"/>
<text transform="translate(1215.2 1533.5) scale(1 1.06)" font-size="33.4" text-anchor="middle">0.5</text>
<text transform="translate(1116.4 1584.9) scale(1 1.025)" font-size="37.7" text-anchor="middle">SHAP value</text>
<line x1="1352.5" x2="1352.5" y1="855.0" y2="1488.1" stroke="#888" stroke-width="1.1"/>
<rect x="1352.5" y="881.0" width="343.2" height="27.6" fill="#808080"/>
<rect x="1352.5" y="920.5" width="326.9" height="27.6" fill="#808080"/>
<rect x="1352.5" y="960.1" width="321.8" height="27.6" fill="#808080"/>
<rect x="1352.5" y="999.6" width="280.4" height="27.6" fill="#808080"/>
<rect x="1352.5" y="1039.2" width="187.5" height="27.6" fill="#808080"/>
<rect x="1352.5" y="1078.7" width="186.6" height="27.6" fill="#808080"/>
<rect x="1352.5" y="1118.2" width="176.1" height="27.6" fill="#808080"/>
<rect x="1352.5" y="1157.8" width="149.2" height="27.6" fill="#808080"/>
<rect x="1352.5" y="1197.3" width="131.2" height="27.6" fill="#808080"/>
<rect x="1352.5" y="1236.9" width="130.4" height="27.6" fill="#808080"/>
<rect x="1352.5" y="1276.4" width="128.6" height="27.6" fill="#808080"/>
<rect x="1352.5" y="1315.9" width="123.8" height="27.6" fill="#808080"/>
<rect x="1352.5" y="1355.5" width="123.2" height="27.6" fill="#808080"/>
<rect x="1352.5" y="1395.0" width="103.2" height="27.6" fill="#808080"/>
<rect x="1352.5" y="1434.6" width="99.8" height="27.6" fill="#808080"/>
<line x1="1350.2" x2="1714.3" y1="1488.1" y2="1488.1" stroke="#111" stroke-width="2.9"/>
<line x1="1352.5" x2="1352.5" y1="1488.1" y2="1502.6" stroke="#333" stroke-width="3.4"/>
<text transform="translate(1357.3 1533.5) scale(1 1.06)" font-size="33.4" text-anchor="middle">0</text>
<line x1="1437.3" x2="1437.3" y1="1488.1" y2="1502.6" stroke="#333" stroke-width="3.4"/>
<text transform="translate(1441.7 1533.5) scale(1 1.06)" font-size="33.4" text-anchor="middle">0.02</text>
<line x1="1522.2" x2="1522.2" y1="1488.1" y2="1502.6" stroke="#333" stroke-width="3.4"/>
<text transform="translate(1524.6 1533.5) scale(1 1.06)" font-size="33.4" text-anchor="middle">0.04</text>
<line x1="1607.0" x2="1607.0" y1="1488.1" y2="1502.6" stroke="#333" stroke-width="3.4"/>
<text transform="translate(1607.9 1533.5) scale(1 1.06)" font-size="33.4" text-anchor="middle">0.06</text>
<line x1="1691.9" x2="1691.9" y1="1488.1" y2="1502.6" stroke="#333" stroke-width="3.4"/>
<text transform="translate(1691.5 1533.5) scale(1 1.06)" font-size="33.4" text-anchor="middle">0.08</text>
<text transform="translate(1541.2 1585.1) scale(1 1.03)" font-size="37.7" text-anchor="middle">Mean absolute SHAP value</text>
<rect x="1253.5" y="1291.5" width="19.0" height="185.9" fill="url(#cb)" stroke="rgba(30,0,30,0.7)" stroke-width="1.0"/>
<text transform="translate(1240.4 1288.3) scale(1 1.06)" font-size="33.2" text-anchor="end">High</text>
<text transform="translate(1239.3 1472.0) scale(1 1.06)" font-size="33.2" text-anchor="end">Low</text>
<text transform="translate(1308.4 1381.8) rotate(-90) scale(1 1.06)" font-size="29.6" text-anchor="middle">Feature value</text>
<text transform="translate(-1.5 1662.5) scale(1 1.0)" font-size="42" font-weight="bold" style="stroke-width:0.15px">c</text>
<text transform="translate(1108.6 1668.6) scale(1 1.045)" font-size="42.0" font-weight="bold" text-anchor="middle" style="stroke-width:0.15px">NRCH-HF1, Cleavage ratio index difference</text>
<text transform="translate(963.6 1741.2) scale(1 1.06)" font-size="33.55" text-anchor="end">Any mismatches in the region spanning positions 4-8</text>
<text transform="translate(963.6 1781.6) scale(1 1.06)" font-size="33.55" text-anchor="end">sgRNA-DNA hybridization free energy change (ΔG<tspan font-size="20.5" dy="6.2">H</tspan><tspan dy="-6.2">)</tspan></text>
<text transform="translate(963.6 1822.0) scale(1 1.06)" font-size="33.55" text-anchor="end">Number of DNA bulges: 1</text>
<text transform="translate(963.6 1862.4) scale(1 1.06)" font-size="33.55" text-anchor="end">The total number of Cs is 0 in the region spanning positions 1-3</text>
<text transform="translate(963.6 1902.8) scale(1 1.06)" font-size="33.55" text-anchor="end">Minimal free energy (MFE) of sgRNA (GN19 + scaffold)</text>
<text transform="translate(963.6 1943.2) scale(1 1.06)" font-size="33.55" text-anchor="end">Number of mismatches: 2</text>
<text transform="translate(963.6 1983.5) scale(1 1.06)" font-size="33.55" text-anchor="end">MFE of GN19</text>
<text transform="translate(963.6 2023.9) scale(1 1.06)" font-size="33.55" text-anchor="end">G, position 2 of the target sequence</text>
<text transform="translate(963.6 2064.3) scale(1 1.06)" font-size="33.55" text-anchor="end">Tm between matching sgRNA and target sequences</text>
<text transform="translate(963.6 2104.7) scale(1 1.06)" font-size="33.55" text-anchor="end">Number of RNA bulges: 1</text>
<text transform="translate(963.6 2145.1) scale(1 1.06)" font-size="33.55" text-anchor="end">1-nt RNA bulge in the region spanning positions 4-8</text>
<text transform="translate(963.6 2185.5) scale(1 1.06)" font-size="33.55" text-anchor="end">GT, positions 16 and 17 of the target sequence</text>
<text transform="translate(963.6 2225.9) scale(1 1.06)" font-size="33.55" text-anchor="end">1-nt RNA bulge in the region spanning positions 9-15</text>
<text transform="translate(963.6 2266.3) scale(1 1.06)" font-size="33.55" text-anchor="end">G, position 5 of the target sequence</text>
<text transform="translate(963.6 2306.7) scale(1 1.06)" font-size="33.55" text-anchor="end">1-nt RNA bulge in the region spanning positions 7-13</text>
<line x1="975" x2="1257" y1="1732.1" y2="1732.1" stroke="#f7f7f7" stroke-width="1.5"/>
<line x1="975" x2="1257" y1="1771.3" y2="1771.3" stroke="#f7f7f7" stroke-width="1.5"/>
<line x1="975" x2="1257" y1="1810.5" y2="1810.5" stroke="#f7f7f7" stroke-width="1.5"/>
<line x1="975" x2="1257" y1="1849.7" y2="1849.7" stroke="#f7f7f7" stroke-width="1.5"/>
<line x1="975" x2="1257" y1="1888.9" y2="1888.9" stroke="#f7f7f7" stroke-width="1.5"/>
<line x1="975" x2="1257" y1="1928.1" y2="1928.1" stroke="#f7f7f7" stroke-width="1.5"/>
<line x1="975" x2="1257" y1="1967.4" y2="1967.4" stroke="#f7f7f7" stroke-width="1.5"/>
<line x1="975" x2="1257" y1="2006.6" y2="2006.6" stroke="#f7f7f7" stroke-width="1.5"/>
<line x1="975" x2="1257" y1="2045.8" y2="2045.8" stroke="#f7f7f7" stroke-width="1.5"/>
<line x1="975" x2="1257" y1="2085.0" y2="2085.0" stroke="#f7f7f7" stroke-width="1.5"/>
<line x1="975" x2="1257" y1="2124.2" y2="2124.2" stroke="#f7f7f7" stroke-width="1.5"/>
<line x1="975" x2="1257" y1="2163.4" y2="2163.4" stroke="#f7f7f7" stroke-width="1.5"/>
<line x1="975" x2="1257" y1="2202.6" y2="2202.6" stroke="#f7f7f7" stroke-width="1.5"/>
<line x1="975" x2="1257" y1="2241.8" y2="2241.8" stroke="#f7f7f7" stroke-width="1.5"/>
<line x1="975" x2="1257" y1="2281.0" y2="2281.0" stroke="#f7f7f7" stroke-width="1.5"/>
<line x1="1116.6" x2="1116.6" y1="1692.5" y2="2320.5" stroke="#a0a0a0" stroke-width="1.4"/>
<rect x="1087.2" y="1730.5" width="16.5" height="3.2" rx="1.6" fill="#1a88f0"/>
<rect x="1109.0" y="1730.3" width="58.2" height="3.6" rx="1.8" fill="#ff0d57"/>
<path d="M1109.0,1719.1 L1108.3,1720.2 L1107.5,1721.3 L1106.8,1722.3 L1106.1,1723.4 L1105.4,1724.5 L1104.9,1725.6 L1104.4,1726.7 L1103.9,1727.8 L1103.5,1728.8 L1103.3,1729.9 L1103.1,1731.0 L1103.0,1732.1 L1103.1,1733.2 L1103.3,1734.3 L1103.5,1735.3 L1103.9,1736.4 L1104.4,1737.5 L1104.9,1738.6 L1105.4,1739.7 L1106.1,1740.8 L1106.8,1741.8 L1107.5,1742.9 L1108.3,1744.0 L1109.0,1745.1 L1109.0,1745.1 L1109.7,1744.0 L1110.5,1742.9 L1111.2,1741.8 L1111.9,1740.8 L1112.6,1739.7 L1113.1,1738.6 L1113.6,1737.5 L1114.1,1736.4 L1114.5,1735.3 L1114.7,1734.3 L1114.9,1733.2 L1115.0,1732.1 L1114.9,1731.0 L1114.7,1729.9 L1114.5,1728.8 L1114.1,1727.8 L1113.6,1726.7 L1113.1,1725.6 L1112.6,1724.5 L1111.9,1723.4 L1111.2,1722.3 L1110.5,1721.3 L1109.7,1720.2 L1109.0,1719.1Z" fill="#ff0d57"/>
<ellipse cx="1129.5" cy="1732.1" rx="7.5" ry="4.0" fill="#ff0d57"/>
<circle cx="1029.0" cy="1771.3" r="1.7" fill="#ff0d57"/>
<circle cx="1033.0" cy="1771.3" r="1.7" fill="#1a88f0"/>
<rect x="1042.0" y="1769.9" width="4.0" height="2.8" rx="1.4" fill="#ff0d57"/>
<rect x="1049.4" y="1769.7" width="48.4" height="3.2" rx="1.6" fill="#ff0d57"/>
<rect x="1058.5" y="1769.7" width="3.6" height="3.2" fill="#1a88f0"/>
<rect x="1070.3" y="1769.7" width="5.2" height="3.2" fill="#1a88f0"/>
<rect x="1081.5" y="1769.7" width="5.3" height="3.2" fill="#1a88f0"/>
<rect x="1138.5" y="1769.6" width="80.5" height="3.4" rx="1.7" fill="#1a88f0"/>
<circle cx="1225.7" cy="1771.3" r="1.6" fill="#1a88f0"/>
<rect x="1238.0" y="1769.9" width="4.0" height="2.8" rx="1.4" fill="#1a88f0"/>
<circle cx="1254.7" cy="1771.3" r="1.4" fill="#9ab"/>
<path d="M1096.1,1771.3 L1097.4,1770.8 L1098.7,1770.1 L1099.9,1769.3 L1101.2,1768.5 L1102.5,1767.5 L1103.8,1766.5 L1105.1,1765.4 L1106.3,1764.2 L1107.6,1763.1 L1108.9,1762.0 L1110.2,1761.0 L1111.5,1760.1 L1112.8,1759.3 L1114.0,1758.8 L1115.3,1758.4 L1116.6,1758.3 L1117.9,1758.4 L1119.2,1758.8 L1120.4,1759.3 L1121.7,1760.1 L1123.0,1761.0 L1124.3,1762.0 L1125.6,1763.1 L1126.8,1764.2 L1128.1,1765.4 L1129.4,1766.5 L1130.7,1767.5 L1132.0,1768.5 L1133.3,1769.3 L1134.5,1770.1 L1135.8,1770.8 L1137.1,1771.3 L1137.1,1771.3 L1135.8,1771.9 L1134.5,1772.5 L1133.3,1773.3 L1132.0,1774.2 L1130.7,1775.1 L1129.4,1776.2 L1128.1,1777.3 L1126.8,1778.4 L1125.6,1779.5 L1124.3,1780.6 L1123.0,1781.6 L1121.7,1782.5 L1120.4,1783.3 L1119.2,1783.8 L1117.9,1784.2 L1116.6,1784.3 L1115.3,1784.2 L1114.0,1783.8 L1112.8,1783.3 L1111.5,1782.5 L1110.2,1781.6 L1108.9,1780.6 L1107.6,1779.5 L1106.3,1778.4 L1105.1,1777.3 L1103.8,1776.2 L1102.5,1775.1 L1101.2,1774.2 L1099.9,1773.3 L1098.7,1772.5 L1097.4,1771.9 L1096.1,1771.3Z" fill="#1a88f0"/>
<rect x="1083.3" y="1808.9" width="18.4" height="3.2" rx="1.6" fill="#ff0d57"/>
<rect x="1110.0" y="1808.9" width="6.0" height="3.2" rx="1.6" fill="#ff0d57"/>
<rect x="1121.0" y="1808.8" width="22.4" height="3.4" rx="1.7" fill="#1a88f0"/>
<path d="M1106.2,1803.2 L1105.7,1803.8 L1105.2,1804.4 L1104.7,1805.0 L1104.3,1805.7 L1103.8,1806.3 L1103.4,1806.9 L1103.1,1807.5 L1102.8,1808.1 L1102.6,1808.7 L1102.4,1809.3 L1102.3,1809.9 L1102.2,1810.5 L1102.3,1811.1 L1102.4,1811.7 L1102.6,1812.3 L1102.8,1813.0 L1103.1,1813.6 L1103.4,1814.2 L1103.8,1814.8 L1104.3,1815.4 L1104.7,1816.0 L1105.2,1816.6 L1105.7,1817.2 L1106.2,1817.8 L1106.2,1817.8 L1106.7,1817.2 L1107.2,1816.6 L1107.7,1816.0 L1108.1,1815.4 L1108.6,1814.8 L1109.0,1814.2 L1109.3,1813.6 L1109.6,1813.0 L1109.8,1812.3 L1110.0,1811.7 L1110.1,1811.1 L1110.2,1810.5 L1110.1,1809.9 L1110.0,1809.3 L1109.8,1808.7 L1109.6,1808.1 L1109.3,1807.5 L1109.0,1806.9 L1108.6,1806.3 L1108.1,1805.7 L1107.7,1805.0 L1107.2,1804.4 L1106.7,1803.8 L1106.2,1803.2Z" fill="#1a88f0"/>
<path d="M1115.7,1810.5 L1116.0,1810.4 L1116.4,1810.2 L1116.7,1810.0 L1117.0,1809.8 L1117.4,1809.6 L1117.7,1809.0 L1118.0,1808.3 L1118.3,1807.2 L1118.7,1806.0 L1119.0,1804.5 L1119.3,1802.8 L1119.7,1801.1 L1120.0,1799.6 L1120.3,1798.3 L1120.7,1797.5 L1121.0,1797.2 L1121.3,1797.5 L1121.7,1798.3 L1122.0,1799.6 L1122.3,1801.1 L1122.7,1802.8 L1123.0,1804.5 L1123.3,1806.0 L1123.7,1807.2 L1124.0,1808.3 L1124.3,1809.0 L1124.6,1809.6 L1125.0,1809.8 L1125.3,1810.0 L1125.6,1810.2 L1126.0,1810.4 L1126.3,1810.5 L1126.3,1810.5 L1126.0,1810.7 L1125.6,1810.8 L1125.3,1811.0 L1125.0,1811.2 L1124.6,1811.4 L1124.3,1812.0 L1124.0,1812.8 L1123.7,1813.8 L1123.3,1815.1 L1123.0,1816.6 L1122.7,1818.2 L1122.3,1819.9 L1122.0,1821.5 L1121.7,1822.7 L1121.3,1823.5 L1121.0,1823.8 L1120.7,1823.5 L1120.3,1822.7 L1120.0,1821.5 L1119.7,1819.9 L1119.3,1818.2 L1119.0,1816.6 L1118.7,1815.1 L1118.3,1813.8 L1118.0,1812.8 L1117.7,1812.0 L1117.4,1811.4 L1117.0,1811.2 L1116.7,1811.0 L1116.4,1810.8 L1116.0,1810.7 L1115.7,1810.5Z" fill="#1a88f0"/>
<rect x="1088.5" y="1848.1" width="15.2" height="3.2" rx="1.6" fill="#1a88f0"/>
<rect x="1120.0" y="1847.9" width="30.0" height="3.6" rx="1.8" fill="#ff0d57"/>
<path d="M1110.4,1839.0 L1109.8,1839.9 L1109.2,1840.8 L1108.6,1841.7 L1108.0,1842.6 L1107.4,1843.5 L1107.0,1844.4 L1106.5,1845.3 L1106.2,1846.2 L1105.9,1847.1 L1105.6,1847.9 L1105.5,1848.8 L1105.4,1849.7 L1105.5,1850.6 L1105.6,1851.5 L1105.9,1852.4 L1106.2,1853.3 L1106.5,1854.2 L1107.0,1855.1 L1107.4,1856.0 L1108.0,1856.9 L1108.6,1857.8 L1109.2,1858.6 L1109.8,1859.5 L1110.4,1860.4 L1110.4,1860.4 L1111.0,1859.5 L1111.6,1858.6 L1112.2,1857.8 L1112.8,1856.9 L1113.4,1856.0 L1113.8,1855.1 L1114.3,1854.2 L1114.6,1853.3 L1114.9,1852.4 L1115.2,1851.5 L1115.3,1850.6 L1115.4,1849.7 L1115.3,1848.8 L1115.2,1847.9 L1114.9,1847.1 L1114.6,1846.2 L1114.3,1845.3 L1113.8,1844.4 L1113.4,1843.5 L1112.8,1842.6 L1112.2,1841.7 L1111.6,1840.8 L1111.0,1839.9 L1110.4,1839.0Z" fill="#ff0d57"/>
<path d="M1114.0,1849.7 L1114.4,1849.6 L1114.8,1849.4 L1115.1,1849.3 L1115.5,1849.1 L1115.9,1848.9 L1116.2,1848.3 L1116.6,1847.6 L1117.0,1846.6 L1117.4,1845.4 L1117.8,1844.0 L1118.1,1842.4 L1118.5,1840.8 L1118.9,1839.4 L1119.2,1838.2 L1119.6,1837.4 L1120.0,1837.1 L1120.4,1837.4 L1120.8,1838.2 L1121.1,1839.4 L1121.5,1840.8 L1121.9,1842.4 L1122.2,1844.0 L1122.6,1845.4 L1123.0,1846.6 L1123.4,1847.6 L1123.8,1848.3 L1124.1,1848.9 L1124.5,1849.1 L1124.9,1849.3 L1125.2,1849.4 L1125.6,1849.6 L1126.0,1849.7 L1126.0,1849.7 L1125.6,1849.9 L1125.2,1850.0 L1124.9,1850.2 L1124.5,1850.4 L1124.1,1850.6 L1123.8,1851.1 L1123.4,1851.9 L1123.0,1852.8 L1122.6,1854.0 L1122.2,1855.5 L1121.9,1857.0 L1121.5,1858.6 L1121.1,1860.1 L1120.8,1861.3 L1120.4,1862.1 L1120.0,1862.3 L1119.6,1862.1 L1119.2,1861.3 L1118.9,1860.1 L1118.5,1858.6 L1118.1,1857.0 L1117.8,1855.5 L1117.4,1854.0 L1117.0,1852.8 L1116.6,1851.9 L1116.2,1851.1 L1115.9,1850.6 L1115.5,1850.4 L1115.1,1850.2 L1114.8,1850.0 L1114.4,1849.9 L1114.0,1849.7Z" fill="#ff0d57"/>
<circle cx="1015.5" cy="1888.9" r="1.8" fill="#ff0d57"/>
<circle cx="1039.0" cy="1888.9" r="1.6" fill="#ff0d57"/>
<circle cx="1042.0" cy="1888.9" r="1.6" fill="#1a88f0"/>
<rect x="1044.6" y="1887.3" width="61.0" height="3.2" rx="1.6" fill="#ff0d57"/>
<rect x="1051.6" y="1887.3" width="4.4" height="3.2" fill="#1a88f0"/>
<rect x="1065.4" y="1887.3" width="1.8" height="3.2" fill="#1a88f0"/>
<rect x="1077.3" y="1887.3" width="2.4" height="3.2" fill="#1a88f0"/>
<rect x="1090.9" y="1887.3" width="2.8" height="3.2" fill="#1a88f0"/>
<rect x="1101.0" y="1887.3" width="3.9" height="3.2" fill="#1a88f0"/>
<rect x="1127.9" y="1887.3" width="80.4" height="3.2" rx="1.6" fill="#ff0d57"/>
<rect x="1135.2" y="1887.3" width="1.6" height="3.2" fill="#a040c8"/>
<rect x="1148.4" y="1887.3" width="3.3" height="3.2" fill="#a040c8"/>
<rect x="1163.8" y="1887.3" width="4.1" height="3.2" fill="#a040c8"/>
<rect x="1175.4" y="1887.3" width="1.9" height="3.2" fill="#a040c8"/>
<rect x="1186.9" y="1887.3" width="1.9" height="3.2" fill="#a040c8"/>
<rect x="1200.8" y="1887.3" width="2.5" height="3.2" fill="#a040c8"/>
<rect x="1219.0" y="1887.5" width="25.0" height="2.8" rx="1.4" fill="#ff0d57"/>
<rect x="1222.1" y="1887.5" width="2.3" height="2.8" fill="#1a88f0"/>
<rect x="1230.4" y="1887.5" width="2.2" height="2.8" fill="#1a88f0"/>
<rect x="1235.4" y="1887.5" width="1.6" height="2.8" fill="#1a88f0"/>
<path d="M1105.4,1888.9 L1106.1,1888.4 L1106.8,1887.7 L1107.5,1887.0 L1108.2,1886.1 L1108.9,1885.1 L1109.6,1884.1 L1110.3,1883.0 L1111.0,1881.9 L1111.7,1880.7 L1112.4,1879.6 L1113.1,1878.6 L1113.8,1877.7 L1114.5,1877.0 L1115.2,1876.4 L1115.9,1876.1 L1116.6,1875.9 L1117.3,1876.1 L1118.0,1876.4 L1118.7,1877.0 L1119.4,1877.7 L1120.1,1878.6 L1120.8,1879.6 L1121.5,1880.7 L1122.2,1881.9 L1122.9,1883.0 L1123.6,1884.1 L1124.3,1885.1 L1125.0,1886.1 L1125.7,1887.0 L1126.4,1887.7 L1127.1,1888.4 L1127.8,1888.9 L1127.8,1888.9 L1127.1,1889.5 L1126.4,1890.2 L1125.7,1890.9 L1125.0,1891.8 L1124.3,1892.7 L1123.6,1893.8 L1122.9,1894.9 L1122.2,1896.0 L1121.5,1897.2 L1120.8,1898.3 L1120.1,1899.3 L1119.4,1900.2 L1118.7,1900.9 L1118.0,1901.5 L1117.3,1901.8 L1116.6,1901.9 L1115.9,1901.8 L1115.2,1901.5 L1114.5,1900.9 L1113.8,1900.2 L1113.1,1899.3 L1112.4,1898.3 L1111.7,1897.2 L1111.0,1896.0 L1110.3,1894.9 L1109.6,1893.8 L1108.9,1892.7 L1108.2,1891.8 L1107.5,1890.9 L1106.8,1890.2 L1106.1,1889.5 L1105.4,1888.9Z" fill="url(#g11)"/>
<rect x="1098.0" y="1926.5" width="11.5" height="3.2" rx="1.6" fill="#1a88f0"/>
<rect x="1115.0" y="1926.0" width="38.0" height="4.2" rx="2.1" fill="#ff0d57"/>
<path d="M1115.3,1915.1 L1114.5,1916.2 L1113.6,1917.3 L1112.7,1918.4 L1111.9,1919.5 L1111.2,1920.6 L1110.5,1921.6 L1109.9,1922.7 L1109.4,1923.8 L1108.9,1924.9 L1108.6,1926.0 L1108.4,1927.1 L1108.3,1928.1 L1108.4,1929.2 L1108.6,1930.3 L1108.9,1931.4 L1109.4,1932.5 L1109.9,1933.6 L1110.5,1934.6 L1111.2,1935.7 L1111.9,1936.8 L1112.7,1937.9 L1113.6,1939.0 L1114.5,1940.1 L1115.3,1941.1 L1115.3,1941.1 L1116.1,1940.1 L1117.0,1939.0 L1117.9,1937.9 L1118.7,1936.8 L1119.4,1935.7 L1120.1,1934.6 L1120.7,1933.6 L1121.2,1932.5 L1121.7,1931.4 L1122.0,1930.3 L1122.2,1929.2 L1122.3,1928.1 L1122.2,1927.1 L1122.0,1926.0 L1121.7,1924.9 L1121.2,1923.8 L1120.7,1922.7 L1120.1,1921.6 L1119.4,1920.6 L1118.7,1919.5 L1117.9,1918.4 L1117.0,1917.3 L1116.1,1916.2 L1115.3,1915.1Z" fill="#ff0d57"/>
<rect x="1020.7" y="1966.0" width="5.3" height="2.8" rx="1.4" fill="#ff0d57"/>
<rect x="1035.0" y="1966.0" width="7.7" height="2.8" rx="1.4" fill="#ff0d57"/>
<rect x="1046.5" y="1965.8" width="59.1" height="3.2" rx="1.6" fill="#ff0d57"/>
<rect x="1052.4" y="1965.8" width="3.2" height="3.2" fill="#1a88f0"/>
<rect x="1063.9" y="1965.8" width="3.0" height="3.2" fill="#1a88f0"/>
<rect x="1077.5" y="1965.8" width="1.7" height="3.2" fill="#1a88f0"/>
<rect x="1089.8" y="1965.8" width="2.8" height="3.2" fill="#1a88f0"/>
<rect x="1098.1" y="1965.8" width="2.2" height="3.2" fill="#1a88f0"/>
<rect x="1127.0" y="1965.8" width="46.4" height="3.2" rx="1.6" fill="#1a88f0"/>
<rect x="1131.4" y="1965.8" width="2.1" height="3.2" fill="#ff0d57"/>
<rect x="1141.9" y="1965.8" width="3.0" height="3.2" fill="#ff0d57"/>
<rect x="1155.9" y="1965.8" width="2.9" height="3.2" fill="#ff0d57"/>
<rect x="1164.6" y="1965.8" width="3.2" height="3.2" fill="#ff0d57"/>
<circle cx="1185.0" cy="1967.4" r="1.6" fill="#1a88f0"/>
<path d="M1116.6,1954.4 L1115.3,1955.4 L1114.0,1956.5 L1112.6,1957.6 L1111.4,1958.7 L1110.3,1959.8 L1109.2,1960.9 L1108.3,1961.9 L1107.5,1963.0 L1106.9,1964.1 L1106.4,1965.2 L1106.0,1966.3 L1105.9,1967.4 L1106.0,1968.4 L1106.4,1969.5 L1106.9,1970.6 L1107.5,1971.7 L1108.3,1972.8 L1109.2,1973.9 L1110.3,1974.9 L1111.4,1976.0 L1112.6,1977.1 L1114.0,1978.2 L1115.3,1979.3 L1116.6,1980.4 L1116.6,1980.4 L1117.9,1979.3 L1119.2,1978.2 L1120.6,1977.1 L1121.8,1976.0 L1122.9,1974.9 L1124.0,1973.9 L1124.9,1972.8 L1125.7,1971.7 L1126.3,1970.6 L1126.8,1969.5 L1127.2,1968.4 L1127.3,1967.4 L1127.2,1966.3 L1126.8,1965.2 L1126.3,1964.1 L1125.7,1963.0 L1124.9,1961.9 L1124.0,1960.9 L1122.9,1959.8 L1121.8,1958.7 L1120.6,1957.6 L1119.2,1956.5 L1117.9,1955.4 L1116.6,1954.4Z" fill="url(#g12)"/>
<rect x="1105.6" y="2005.0" width="5.8" height="3.2" rx="1.6" fill="#1a88f0"/>
<rect x="1113.0" y="2004.9" width="36.2" height="3.4" rx="1.7" fill="#ff0d57"/>
<path d="M1113.7,1993.6 L1113.3,1994.7 L1112.8,1995.7 L1112.4,1996.8 L1112.0,1997.9 L1111.6,1999.0 L1111.3,2000.1 L1111.0,2001.2 L1110.7,2002.2 L1110.5,2003.3 L1110.4,2004.4 L1110.2,2005.5 L1110.2,2006.6 L1110.2,2007.7 L1110.4,2008.7 L1110.5,2009.8 L1110.7,2010.9 L1111.0,2012.0 L1111.3,2013.1 L1111.6,2014.2 L1112.0,2015.2 L1112.4,2016.3 L1112.8,2017.4 L1113.3,2018.5 L1113.7,2019.6 L1113.7,2019.6 L1114.1,2018.5 L1114.6,2017.4 L1115.0,2016.3 L1115.4,2015.2 L1115.8,2014.2 L1116.1,2013.1 L1116.4,2012.0 L1116.7,2010.9 L1116.9,2009.8 L1117.0,2008.7 L1117.2,2007.7 L1117.2,2006.6 L1117.2,2005.5 L1117.0,2004.4 L1116.9,2003.3 L1116.7,2002.2 L1116.4,2001.2 L1116.1,2000.1 L1115.8,1999.0 L1115.4,1997.9 L1115.0,1996.8 L1114.6,1995.7 L1114.1,1994.7 L1113.7,1993.6Z" fill="#ff0d57"/>
<ellipse cx="1122.0" cy="2006.6" rx="3.0" ry="3.0" fill="#ff0d57"/>
<circle cx="1074.2" cy="2045.8" r="1.6" fill="#1a88f0"/>
<rect x="1081.4" y="2044.2" width="12.6" height="3.2" rx="1.6" fill="#ff0d57"/>
<rect x="1094.0" y="2044.2" width="15.5" height="3.2" rx="1.6" fill="#ff0d57"/>
<rect x="1096.7" y="2044.2" width="1.5" height="3.2" fill="#1a88f0"/>
<rect x="1104.6" y="2044.2" width="1.7" height="3.2" fill="#1a88f0"/>
<rect x="1116.0" y="2043.8" width="79.7" height="4.0" rx="2.0" fill="#1a88f0"/>
<path d="M1116.6,2032.8 L1115.8,2033.9 L1114.9,2034.9 L1114.1,2036.0 L1113.3,2037.1 L1112.6,2038.2 L1111.9,2039.3 L1111.3,2040.4 L1110.8,2041.4 L1110.4,2042.5 L1110.1,2043.6 L1109.9,2044.7 L1109.8,2045.8 L1109.9,2046.9 L1110.1,2047.9 L1110.4,2049.0 L1110.8,2050.1 L1111.3,2051.2 L1111.9,2052.3 L1112.6,2053.4 L1113.3,2054.4 L1114.1,2055.5 L1114.9,2056.6 L1115.8,2057.7 L1116.6,2058.8 L1116.6,2058.8 L1117.4,2057.7 L1118.3,2056.6 L1119.1,2055.5 L1119.9,2054.4 L1120.6,2053.4 L1121.3,2052.3 L1121.9,2051.2 L1122.4,2050.1 L1122.8,2049.0 L1123.1,2047.9 L1123.3,2046.9 L1123.4,2045.8 L1123.3,2044.7 L1123.1,2043.6 L1122.8,2042.5 L1122.4,2041.4 L1121.9,2040.4 L1121.3,2039.3 L1120.6,2038.2 L1119.9,2037.1 L1119.1,2036.0 L1118.3,2034.9 L1117.4,2033.9 L1116.6,2032.8Z" fill="#1a88f0"/>
<rect x="1099.4" y="2083.3" width="15.9" height="3.4" rx="1.7" fill="#ff0d57"/>
<rect x="1121.0" y="2083.4" width="9.0" height="3.2" rx="1.6" fill="#1a88f0"/>
<rect x="1130.8" y="2083.5" width="9.2" height="3.0" rx="1.5" fill="#ff0d57"/>
<rect x="1144.0" y="2083.5" width="8.0" height="3.0" rx="1.5" fill="#ff0d57"/>
<rect x="1155.0" y="2083.5" width="5.0" height="3.0" rx="1.5" fill="#ff0d57"/>
<rect x="1163.0" y="2083.5" width="5.5" height="3.0" rx="1.5" fill="#ff0d57"/>
<path d="M1118.2,2072.0 L1117.8,2073.1 L1117.5,2074.2 L1117.1,2075.2 L1116.7,2076.3 L1116.4,2077.4 L1116.1,2078.5 L1115.9,2079.6 L1115.7,2080.7 L1115.5,2081.7 L1115.3,2082.8 L1115.2,2083.9 L1115.2,2085.0 L1115.2,2086.1 L1115.3,2087.2 L1115.5,2088.2 L1115.7,2089.3 L1115.9,2090.4 L1116.1,2091.5 L1116.4,2092.6 L1116.7,2093.7 L1117.1,2094.7 L1117.5,2095.8 L1117.8,2096.9 L1118.2,2098.0 L1118.2,2098.0 L1118.6,2096.9 L1118.9,2095.8 L1119.3,2094.7 L1119.7,2093.7 L1120.0,2092.6 L1120.3,2091.5 L1120.5,2090.4 L1120.7,2089.3 L1120.9,2088.2 L1121.1,2087.2 L1121.2,2086.1 L1121.2,2085.0 L1121.2,2083.9 L1121.1,2082.8 L1120.9,2081.7 L1120.7,2080.7 L1120.5,2079.6 L1120.3,2078.5 L1120.0,2077.4 L1119.7,2076.3 L1119.3,2075.2 L1118.9,2074.2 L1118.6,2073.1 L1118.2,2072.0Z" fill="#b01aa8"/>
<rect x="1087.8" y="2122.5" width="27.5" height="3.4" rx="1.7" fill="#ff0d57"/>
<rect x="1120.0" y="2122.6" width="8.8" height="3.2" rx="1.6" fill="#ff0d57"/>
<rect x="1122.7" y="2122.6" width="1.7" height="3.2" fill="#1a88f0"/>
<path d="M1117.8,2111.2 L1117.4,2112.3 L1117.1,2113.4 L1116.7,2114.4 L1116.3,2115.5 L1116.0,2116.6 L1115.7,2117.7 L1115.5,2118.8 L1115.3,2119.9 L1115.1,2120.9 L1114.9,2122.0 L1114.8,2123.1 L1114.8,2124.2 L1114.8,2125.3 L1114.9,2126.4 L1115.1,2127.4 L1115.3,2128.5 L1115.5,2129.6 L1115.7,2130.7 L1116.0,2131.8 L1116.3,2132.9 L1116.7,2133.9 L1117.1,2135.0 L1117.4,2136.1 L1117.8,2137.2 L1117.8,2137.2 L1118.2,2136.1 L1118.5,2135.0 L1118.9,2133.9 L1119.3,2132.9 L1119.6,2131.8 L1119.9,2130.7 L1120.1,2129.6 L1120.3,2128.5 L1120.5,2127.4 L1120.7,2126.4 L1120.8,2125.3 L1120.8,2124.2 L1120.8,2123.1 L1120.7,2122.0 L1120.5,2120.9 L1120.3,2119.9 L1120.1,2118.8 L1119.9,2117.7 L1119.6,2116.6 L1119.3,2115.5 L1118.9,2114.4 L1118.5,2113.4 L1118.2,2112.3 L1117.8,2111.2Z" fill="#a020b0"/>
<rect x="1067.8" y="2161.7" width="47.5" height="3.4" rx="1.7" fill="#ff0d57"/>
<rect x="1118.0" y="2161.8" width="8.9" height="3.2" rx="1.6" fill="#1a88f0"/>
<path d="M1117.8,2149.9 L1117.4,2151.0 L1116.9,2152.2 L1116.5,2153.3 L1116.1,2154.4 L1115.7,2155.5 L1115.4,2156.7 L1115.1,2157.8 L1114.8,2158.9 L1114.6,2160.0 L1114.5,2161.2 L1114.3,2162.3 L1114.3,2163.4 L1114.3,2164.5 L1114.5,2165.7 L1114.6,2166.8 L1114.8,2167.9 L1115.1,2169.0 L1115.4,2170.2 L1115.7,2171.3 L1116.1,2172.4 L1116.5,2173.5 L1116.9,2174.7 L1117.4,2175.8 L1117.8,2176.9 L1117.8,2176.9 L1118.2,2175.8 L1118.7,2174.7 L1119.1,2173.5 L1119.5,2172.4 L1119.9,2171.3 L1120.2,2170.2 L1120.5,2169.0 L1120.8,2167.9 L1121.0,2166.8 L1121.1,2165.7 L1121.3,2164.5 L1121.3,2163.4 L1121.3,2162.3 L1121.1,2161.2 L1121.0,2160.0 L1120.8,2158.9 L1120.5,2157.8 L1120.2,2156.7 L1119.9,2155.5 L1119.5,2154.4 L1119.1,2153.3 L1118.7,2152.2 L1118.2,2151.0 L1117.8,2149.9Z" fill="#1a88f0"/>
<circle cx="1082.0" cy="2202.6" r="1.8" fill="#ff0d57"/>
<rect x="1087.2" y="2200.5" width="28.1" height="4.2" rx="2.1" fill="#ff0d57"/>
<rect x="1121.0" y="2201.0" width="4.0" height="3.2" rx="1.6" fill="#1a88f0"/>
<rect x="1125.0" y="2201.0" width="8.7" height="3.2" rx="1.6" fill="#ff0d57"/>
<path d="M1117.8,2189.6 L1117.4,2190.7 L1116.9,2191.8 L1116.5,2192.9 L1116.1,2194.0 L1115.7,2195.0 L1115.4,2196.1 L1115.1,2197.2 L1114.8,2198.3 L1114.6,2199.4 L1114.5,2200.5 L1114.3,2201.5 L1114.3,2202.6 L1114.3,2203.7 L1114.5,2204.8 L1114.6,2205.9 L1114.8,2207.0 L1115.1,2208.0 L1115.4,2209.1 L1115.7,2210.2 L1116.1,2211.3 L1116.5,2212.4 L1116.9,2213.5 L1117.4,2214.5 L1117.8,2215.6 L1117.8,2215.6 L1118.2,2214.5 L1118.7,2213.5 L1119.1,2212.4 L1119.5,2211.3 L1119.9,2210.2 L1120.2,2209.1 L1120.5,2208.0 L1120.8,2207.0 L1121.0,2205.9 L1121.1,2204.8 L1121.3,2203.7 L1121.3,2202.6 L1121.3,2201.5 L1121.1,2200.5 L1121.0,2199.4 L1120.8,2198.3 L1120.5,2197.2 L1120.2,2196.1 L1119.9,2195.0 L1119.5,2194.0 L1119.1,2192.9 L1118.7,2191.8 L1118.2,2190.7 L1117.8,2189.6Z" fill="#ff0d57"/>
<rect x="1096.3" y="2240.1" width="15.1" height="3.4" rx="1.7" fill="#ff0d57"/>
<rect x="1118.0" y="2240.2" width="10.4" height="3.2" rx="1.6" fill="#1a88f0"/>
<ellipse cx="1112.5" cy="2241.8" rx="2.6" ry="2.6" fill="#1a88f0"/>
<path d="M1117.8,2228.8 L1117.4,2229.9 L1116.9,2231.0 L1116.5,2232.1 L1116.1,2233.2 L1115.7,2234.2 L1115.4,2235.3 L1115.1,2236.4 L1114.8,2237.5 L1114.6,2238.6 L1114.5,2239.7 L1114.3,2240.7 L1114.3,2241.8 L1114.3,2242.9 L1114.5,2244.0 L1114.6,2245.1 L1114.8,2246.2 L1115.1,2247.2 L1115.4,2248.3 L1115.7,2249.4 L1116.1,2250.5 L1116.5,2251.6 L1116.9,2252.7 L1117.4,2253.7 L1117.8,2254.8 L1117.8,2254.8 L1118.2,2253.7 L1118.7,2252.7 L1119.1,2251.6 L1119.5,2250.5 L1119.9,2249.4 L1120.2,2248.3 L1120.5,2247.2 L1120.8,2246.2 L1121.0,2245.1 L1121.1,2244.0 L1121.3,2242.9 L1121.3,2241.8 L1121.3,2240.7 L1121.1,2239.7 L1121.0,2238.6 L1120.8,2237.5 L1120.5,2236.4 L1120.2,2235.3 L1119.9,2234.2 L1119.5,2233.2 L1119.1,2232.1 L1118.7,2231.0 L1118.2,2229.9 L1117.8,2228.8Z" fill="#4a6ae8"/>
<rect x="1084.7" y="2279.3" width="30.6" height="3.4" rx="1.7" fill="#ff0d57"/>
<rect x="1120.0" y="2279.4" width="6.0" height="3.2" rx="1.6" fill="#1a88f0"/>
<rect x="1122.2" y="2279.4" width="1.7" height="3.2" fill="#ff0d57"/>
<path d="M1117.8,2268.0 L1117.4,2269.1 L1116.9,2270.2 L1116.5,2271.3 L1116.1,2272.4 L1115.7,2273.5 L1115.4,2274.5 L1115.1,2275.6 L1114.8,2276.7 L1114.6,2277.8 L1114.5,2278.9 L1114.3,2280.0 L1114.3,2281.0 L1114.3,2282.1 L1114.5,2283.2 L1114.6,2284.3 L1114.8,2285.4 L1115.1,2286.5 L1115.4,2287.5 L1115.7,2288.6 L1116.1,2289.7 L1116.5,2290.8 L1116.9,2291.9 L1117.4,2293.0 L1117.8,2294.0 L1117.8,2294.0 L1118.2,2293.0 L1118.7,2291.9 L1119.1,2290.8 L1119.5,2289.7 L1119.9,2288.6 L1120.2,2287.5 L1120.5,2286.5 L1120.8,2285.4 L1121.0,2284.3 L1121.1,2283.2 L1121.3,2282.1 L1121.3,2281.0 L1121.3,2280.0 L1121.1,2278.9 L1121.0,2277.8 L1120.8,2276.7 L1120.5,2275.6 L1120.2,2274.5 L1119.9,2273.5 L1119.5,2272.4 L1119.1,2271.3 L1118.7,2270.2 L1118.2,2269.1 L1117.8,2268.0Z" fill="#ff0d57"/>
<line x1="976.3" x2="1257.2" y1="2320.5" y2="2320.5" stroke="#111" stroke-width="2.9"/>
<line x1="1000.6" x2="1000.6" y1="2320.5" y2="2335.0" stroke="#333" stroke-width="3.4"/>
<text transform="translate(1000.6 2367.7) scale(1 1.06)" font-size="33.4" text-anchor="middle">-1</text>
<line x1="1116.6" x2="1116.6" y1="2320.5" y2="2335.0" stroke="#333" stroke-width="3.4"/>
<text transform="translate(1116.6 2367.7) scale(1 1.06)" font-size="33.4" text-anchor="middle">0</text>
<line x1="1232.6" x2="1232.6" y1="2320.5" y2="2335.0" stroke="#333" stroke-width="3.4"/>
<text transform="translate(1232.6 2367.7) scale(1 1.06)" font-size="33.4" text-anchor="middle">1</text>
<text transform="translate(1122.9 2406.8) scale(1 1.025)" font-size="37.7" text-anchor="middle">SHAP value</text>
<line x1="1351.5" x2="1351.5" y1="1688.0" y2="2320.5" stroke="#888" stroke-width="1.1"/>
<rect x="1351.5" y="1713.0" width="343.9" height="27.6" fill="#808080"/>
<rect x="1351.5" y="1752.6" width="290.8" height="27.6" fill="#808080"/>
<rect x="1351.5" y="1792.2" width="257.4" height="27.6" fill="#808080"/>
<rect x="1351.5" y="1831.8" width="216.2" height="27.6" fill="#808080"/>
<rect x="1351.5" y="1871.4" width="180.2" height="27.6" fill="#808080"/>
<rect x="1351.5" y="1910.9" width="150.2" height="27.6" fill="#808080"/>
<rect x="1351.5" y="1950.5" width="133.9" height="27.6" fill="#808080"/>
<rect x="1351.5" y="1990.1" width="120.2" height="27.6" fill="#808080"/>
<rect x="1351.5" y="2029.7" width="118.5" height="27.6" fill="#808080"/>
<rect x="1351.5" y="2069.3" width="115.4" height="27.6" fill="#808080"/>
<rect x="1351.5" y="2108.8" width="107.4" height="27.6" fill="#808080"/>
<rect x="1351.5" y="2148.4" width="95.9" height="27.6" fill="#808080"/>
<rect x="1351.5" y="2188.0" width="95.9" height="27.6" fill="#808080"/>
<rect x="1351.5" y="2227.6" width="85.6" height="27.6" fill="#808080"/>
<rect x="1351.5" y="2267.2" width="82.2" height="27.6" fill="#808080"/>
<line x1="1349.2" x2="1714.9" y1="2320.5" y2="2320.5" stroke="#111" stroke-width="2.9"/>
<line x1="1351.5" x2="1351.5" y1="2320.5" y2="2335.0" stroke="#333" stroke-width="3.4"/>
<text transform="translate(1356.7 2367.7) scale(1 1.06)" font-size="33.4" text-anchor="middle">0</text>
<line x1="1428.7" x2="1428.7" y1="2320.5" y2="2335.0" stroke="#333" stroke-width="3.4"/>
<text transform="translate(1429.7 2367.7) scale(1 1.06)" font-size="33.4" text-anchor="middle">0.02</text>
<line x1="1505.8" x2="1505.8" y1="2320.5" y2="2335.0" stroke="#333" stroke-width="3.4"/>
<text transform="translate(1506.8 2367.7) scale(1 1.06)" font-size="33.4" text-anchor="middle">0.04</text>
<line x1="1583.0" x2="1583.0" y1="2320.5" y2="2335.0" stroke="#333" stroke-width="3.4"/>
<text transform="translate(1587.8 2367.7) scale(1 1.06)" font-size="33.4" text-anchor="middle">0.06</text>
<line x1="1660.1" x2="1660.1" y1="2320.5" y2="2335.0" stroke="#333" stroke-width="3.4"/>
<text transform="translate(1667.1 2367.7) scale(1 1.06)" font-size="33.4" text-anchor="middle">0.08</text>
<text transform="translate(1531.0 2406.8) scale(1 1.03)" font-size="37.7" text-anchor="middle">Mean absolute SHAP value</text>
<rect x="1253.5" y="2112.4" width="19.0" height="185.6" fill="url(#cb)" stroke="rgba(30,0,30,0.7)" stroke-width="1.0"/>
<text transform="translate(1242.8 2136.9) scale(1 1.06)" font-size="33.2" text-anchor="end">High</text>
<text transform="translate(1239.3 2293.0) scale(1 1.06)" font-size="33.2" text-anchor="end">Low</text>
<text transform="translate(1308.4 2202.5) rotate(-90) scale(1 1.06)" font-size="29.6" text-anchor="middle">Feature value</text>
</svg></body></html>
